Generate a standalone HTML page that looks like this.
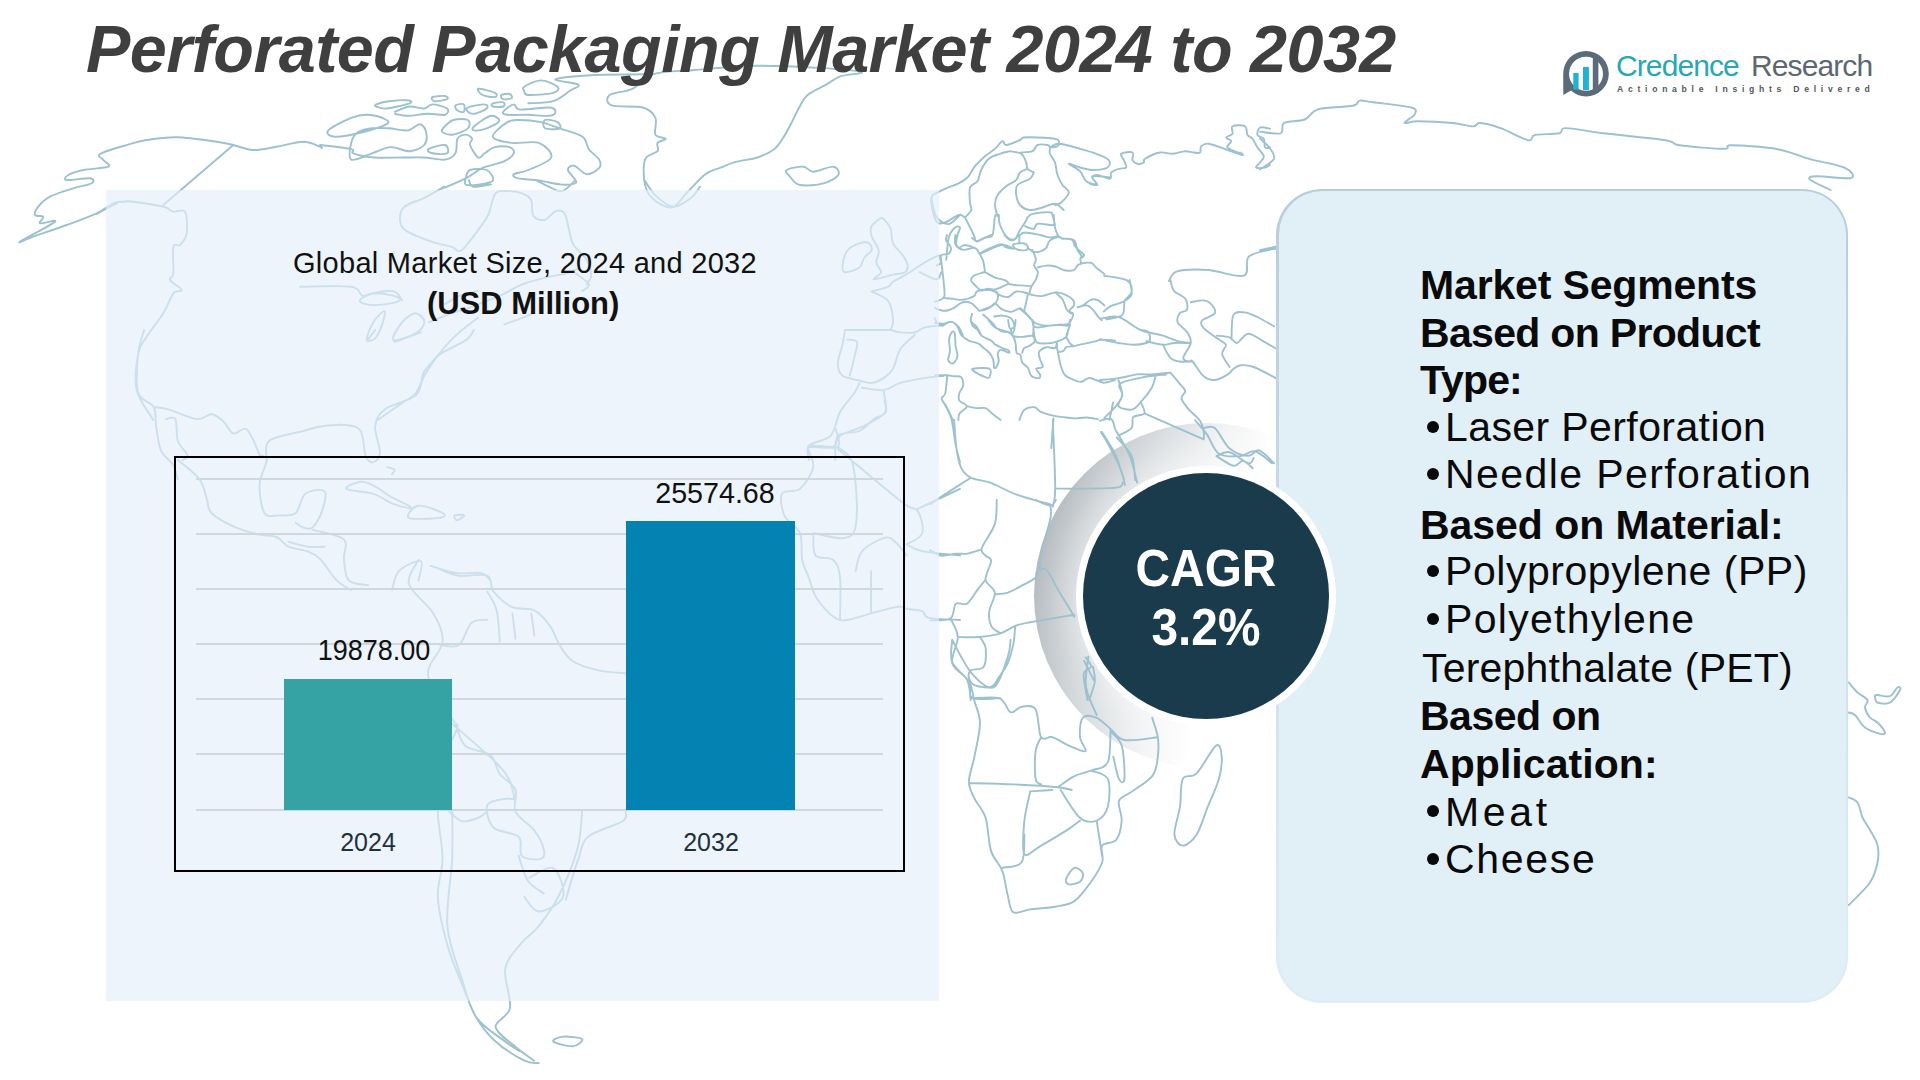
<!DOCTYPE html>
<html>
<head>
<meta charset="utf-8">
<style>
html,body{margin:0;padding:0;}
body{width:1920px;height:1080px;position:relative;overflow:hidden;background:#ffffff;font-family:"Liberation Sans",sans-serif;}
.abs{position:absolute;}
#title{left:86px;top:8.5px;font-size:66.5px;font-weight:bold;font-style:italic;color:#3f3f3f;white-space:nowrap;letter-spacing:-0.52px;line-height:80px;}
#map{left:0;top:0;width:1920px;height:1080px;}
#lpanel{left:106px;top:190px;width:833px;height:811px;background:rgba(228,238,250,0.66);}
#ctitle{left:293px;top:246px;font-size:29px;color:#111;letter-spacing:0.28px;line-height:34px;white-space:nowrap;}
#cunit{left:427px;top:286px;font-size:31px;font-weight:bold;color:#111;line-height:36px;white-space:nowrap;letter-spacing:-0.05px;}
#chart{left:174px;top:456px;width:727px;height:412px;border:2px solid #000;}
.grid{position:absolute;left:196px;width:687px;height:2px;background:#cfd8dc;}
.bar{position:absolute;}
.val{position:absolute;font-size:30px;color:#111;text-align:center;width:200px;line-height:34px;transform:scaleX(0.9);}
.cat{position:absolute;font-size:25px;color:#1e323c;text-align:center;width:200px;line-height:28px;}
#rpanel{left:1276px;top:188.5px;width:572px;height:814px;border-radius:46px;box-sizing:border-box;background:linear-gradient(180deg,#b6cdda 0%,#c5d9e4 35%,#d6e6ef 70%,#dfedf5 100%);}
#rpin{left:1278.5px;top:191px;width:567px;height:809px;border-radius:43.5px;background:#e1eff7;}
.sl{position:absolute;font-size:41px;line-height:47.8px;color:#0a0a0a;white-space:nowrap;}
.sl.b{font-weight:bold;}
.bul{position:absolute;width:12px;height:12px;border-radius:50%;background:#0a0a0a;}
#ring{left:1034px;top:423px;width:345px;height:345px;border-radius:50%;background:radial-gradient(circle 173px at 50% 50%, rgba(255,255,255,0.4) 130px, rgba(255,255,255,0.12) 155px, rgba(255,255,255,0) 173px),linear-gradient(105deg,#a9b0b5 3%,#bfc4c8 15%,#d9dde0 30%,#f3f4f5 45%,rgba(255,255,255,0) 56%);}
#dot{left:1076px;top:466px;width:260px;height:260px;border-radius:50%;background:#ffffff;}
#circle{left:1083px;top:473px;width:246px;height:246px;border-radius:50%;background:#1a3b4b;}
.cg{position:absolute;left:1083px;width:246px;text-align:center;color:#fff;font-weight:bold;font-size:52px;line-height:60px;transform:scaleX(0.92);}
#logo{left:1550px;top:40px;width:330px;height:70px;}
</style>
</head>
<body>
<div id="ring" class="abs"></div>
<svg id="map" class="abs" width="1920" height="1080" viewBox="0 0 1920 1080"><path d="M233.3,145.0 C230.6,144.4 226.1,142.9 216.7,141.7 C207.2,140.4 188.3,137.6 176.7,137.3 C165.0,137.1 155.6,138.6 146.7,140.0 C137.8,141.4 131.1,143.7 123.3,146.0 C115.6,148.3 103.3,151.7 100.0,154.0 C96.7,156.3 101.9,157.9 103.3,160.0 C104.7,162.1 111.7,165.0 108.3,166.7 C105.0,168.3 90.0,168.6 83.3,170.0 C76.7,171.4 71.1,173.3 68.3,175.0 C65.6,176.7 63.1,179.4 66.7,180.0 C70.3,180.6 85.8,177.8 90.0,178.3 C94.2,178.9 94.4,181.7 91.7,183.3 C88.9,185.0 80.3,186.1 73.3,188.3 C66.4,190.6 55.8,193.6 50.0,196.7 C44.2,199.7 40.8,203.6 38.3,206.7 C35.8,209.7 34.2,213.3 35.0,215.0 C35.8,216.7 42.5,215.3 43.3,216.7 C44.2,218.1 38.1,222.5 40.0,223.3 C41.9,224.2 58.3,218.6 55.0,221.7 C51.7,224.7 23.6,239.2 20.0,241.7 C16.4,244.2 25.6,239.4 33.3,236.7 C41.1,233.9 56.1,228.9 66.7,225.0 C77.2,221.1 88.9,216.9 96.7,213.3 C104.4,209.7 108.9,205.3 113.3,203.3 C117.8,201.4 120.0,201.9 123.3,201.7 C126.7,201.4 126.7,200.8 133.3,201.7 C140.0,202.5 156.7,205.0 163.3,206.7 C170.0,208.3 169.7,210.8 173.3,211.7 C176.9,212.5 182.8,208.1 185.0,211.7 C187.2,215.3 187.5,227.8 186.7,233.3 C185.8,238.9 182.2,242.8 180.0,245.0 C177.8,247.2 174.4,241.9 173.3,246.7 C172.2,251.4 173.9,267.8 173.3,273.3 C172.8,278.9 168.6,277.2 170.0,280.0 C171.4,282.8 181.1,287.8 181.7,290.0 C182.2,292.2 176.4,289.4 173.3,293.3 C170.3,297.2 167.8,306.1 163.3,313.3 C158.9,320.6 150.8,330.0 146.7,336.7 C142.5,343.3 140.0,344.4 138.3,353.3 C136.7,362.2 134.2,378.9 136.7,390.0 C139.2,401.1 150.6,415.0 153.3,420.0 M96.7,214.0 C98.9,212.8 106.7,208.4 110.0,206.7 C113.3,204.9 115.6,203.9 116.7,203.3 M233.3,145.0 L163.3,205.0 M233.3,145.0 C236.7,145.8 246.1,149.7 253.3,150.0 C260.6,150.3 268.3,148.1 276.7,146.7 C285.0,145.3 296.1,141.7 303.3,141.7 C310.6,141.7 316.9,145.6 320.0,146.7 C323.1,147.8 321.4,148.1 321.7,148.3 M954.1,420.0 C954.5,424.8 955.3,440.9 956.5,448.9 C957.7,456.9 958.9,463.3 961.3,468.2 C963.7,473.0 966.1,475.4 970.9,477.8 C975.8,480.2 982.6,479.8 990.2,482.6 C997.8,485.4 1006.7,491.0 1016.7,494.6 C1026.7,498.3 1044.8,502.7 1050.4,504.3 M1052.8,420.0 C1053.2,431.2 1055.2,473.0 1055.2,487.4 C1055.2,501.9 1053.2,503.5 1052.8,506.7 M1055.2,488.6 C1060.4,488.6 1076.1,488.8 1086.5,488.6 C1096.9,488.4 1111.8,488.4 1117.8,487.4 C1123.8,486.4 1121.8,483.4 1122.6,482.6 M1101.0,432.0 C1102.2,434.0 1105.0,438.1 1108.2,444.1 C1111.4,450.1 1117.4,461.3 1120.2,468.2 C1123.0,475.0 1124.2,482.2 1125.0,485.0 M1115.4,429.6 C1117.8,434.0 1126.2,447.3 1129.9,456.1 C1133.5,464.9 1135.9,478.2 1137.1,482.6 M930.0,504.3 C932.4,502.7 937.6,499.1 944.4,494.6 C951.3,490.2 966.5,480.6 970.9,477.8 M1194.9,420.0 C1196.9,422.4 1202.9,428.8 1206.9,434.4 C1210.9,440.1 1213.3,450.1 1218.9,453.7 C1224.6,457.3 1234.6,456.5 1240.6,456.1 C1246.6,455.7 1249.8,450.1 1255.1,451.3 C1260.3,452.5 1269.1,461.3 1271.9,463.3 M1216.5,456.1 C1219.3,457.7 1229.0,464.9 1233.4,465.8 C1237.8,466.6 1239.8,460.5 1243.0,460.9 C1246.2,461.3 1251.1,467.0 1252.7,468.2 M1084.1,660.8 L1093.7,680.1 M952.2,640.0 C952.2,643.7 949.4,655.3 952.2,662.2 C955.0,669.2 965.2,675.2 968.9,681.7 C972.6,688.1 972.6,694.2 974.4,701.1 C976.3,708.1 980.0,714.1 980.0,723.3 C980.0,732.6 976.3,746.9 974.4,756.7 C972.6,766.4 968.9,774.7 968.9,781.7 C968.9,788.6 971.7,792.3 974.4,798.3 C977.2,804.4 982.8,809.0 985.6,817.8 C988.3,826.6 988.3,842.3 991.1,851.1 C993.9,859.9 999.4,863.1 1002.2,870.6 C1005.0,878.0 1005.9,888.6 1007.8,895.6 C1009.6,902.5 1009.6,909.9 1013.3,912.2 C1017.0,914.5 1023.1,910.4 1030.0,909.4 C1036.9,908.5 1047.6,908.1 1055.0,906.7 C1062.4,905.3 1068.4,905.3 1074.4,901.1 C1080.5,896.9 1086.5,888.1 1091.1,881.7 C1095.7,875.2 1100.4,868.2 1102.2,862.2 C1104.1,856.2 1099.9,849.3 1102.2,845.6 C1104.5,841.9 1112.9,844.2 1116.1,840.0 C1119.4,835.8 1121.2,827.0 1121.7,820.6 C1122.1,814.1 1117.5,805.7 1118.9,801.1 C1120.3,796.5 1124.4,796.9 1130.0,792.8 C1135.6,788.6 1147.6,782.1 1152.2,776.1 C1156.9,770.1 1156.9,763.1 1157.8,756.7 C1158.7,750.2 1158.7,743.7 1157.8,737.2 C1156.9,730.7 1153.1,721.0 1152.2,717.8 M971.7,698.3 C976.3,698.3 993.0,696.0 999.4,698.3 C1005.9,700.6 1006.9,710.8 1010.6,712.2 C1014.3,713.6 1017.5,707.1 1021.7,706.7 C1025.8,706.2 1032.3,704.4 1035.6,709.4 C1038.8,714.5 1038.3,732.6 1041.1,737.2 C1043.9,741.9 1047.6,735.8 1052.2,737.2 C1056.9,738.6 1063.3,743.2 1068.9,745.6 C1074.4,747.9 1083.7,752.5 1085.6,751.1 C1087.4,749.7 1080.5,742.8 1080.0,737.2 C1079.5,731.7 1080.0,721.0 1082.8,717.8 C1085.6,714.5 1092.0,715.9 1096.7,717.8 C1101.3,719.6 1105.9,725.2 1110.6,728.9 C1115.2,732.6 1116.6,738.6 1124.4,740.0 C1132.3,741.4 1152.2,737.7 1157.8,737.2 M1041.1,737.2 C1040.2,739.5 1036.5,744.2 1035.6,751.1 C1034.6,758.1 1034.6,773.3 1035.6,778.9 C1036.5,784.4 1040.2,783.5 1041.1,784.4 M968.9,783.1 C976.3,783.3 998.5,783.8 1013.3,784.4 C1028.1,785.1 1048.1,786.3 1057.8,787.2 C1067.5,788.1 1069.4,789.5 1071.7,790.0 M1057.8,787.2 C1060.6,785.4 1068.9,778.9 1074.4,776.1 C1080.0,773.3 1085.6,772.9 1091.1,770.6 C1096.7,768.2 1104.5,769.2 1107.8,762.2 C1111.0,755.3 1110.1,734.4 1110.6,728.9 M1060.6,790.0 C1063.8,794.6 1074.0,812.7 1080.0,817.8 C1086.0,822.9 1092.0,822.4 1096.7,820.6 C1101.3,818.7 1105.9,813.6 1107.8,806.7 C1109.6,799.7 1110.6,784.9 1107.8,778.9 C1105.0,772.9 1093.9,771.9 1091.1,770.6 M1030.0,791.4 L1052.2,790.0 M1030.0,792.8 C1029.1,797.4 1025.4,810.4 1024.4,820.6 C1023.5,830.7 1021.7,849.7 1024.4,853.9 C1027.2,858.1 1033.7,849.7 1041.1,845.6 C1048.5,841.4 1062.4,833.1 1068.9,828.9 C1075.4,824.7 1078.1,821.9 1080.0,820.6 M1002.2,867.8 C1005.5,866.9 1018.0,867.8 1021.7,862.2 C1025.4,856.7 1024.0,839.1 1024.4,834.4 M1096.7,820.6 L1102.2,856.7 M1110.6,731.7 C1112.4,734.0 1119.4,737.7 1121.7,745.6 C1124.0,753.4 1124.9,773.3 1124.4,778.9 C1124.0,784.4 1120.7,782.6 1118.9,778.9 C1117.0,775.2 1114.3,760.4 1113.3,756.7 M1066.1,878.9 C1067.0,876.1 1071.7,868.7 1074.4,867.8 C1077.2,866.9 1081.9,871.0 1082.8,873.3 C1083.7,875.6 1082.3,879.8 1080.0,881.7 C1077.7,883.5 1071.2,884.9 1068.9,884.4 C1066.6,884.0 1065.2,881.7 1066.1,878.9 M1174.4,834.4 C1174.0,828.0 1178.6,815.9 1180.0,806.7 C1181.4,797.4 1180.0,784.4 1182.8,778.9 C1185.6,773.3 1191.1,778.9 1196.7,773.3 C1202.2,767.8 1211.9,748.3 1216.1,745.6 C1220.3,742.8 1221.2,751.1 1221.7,756.7 C1222.1,762.2 1221.2,770.6 1218.9,778.9 C1216.6,787.2 1211.5,797.4 1207.8,806.7 C1204.1,815.9 1200.8,828.0 1196.7,834.4 C1192.5,840.9 1186.5,845.6 1182.8,845.6 C1179.1,845.6 1174.9,840.9 1174.4,834.4 M952.2,640.0 C955.5,645.6 964.7,665.5 971.7,673.3 C978.6,681.2 987.9,690.0 993.9,687.2 C999.9,684.4 1005.0,664.5 1007.8,656.7 C1010.6,648.8 1010.1,642.8 1010.6,640.0 M1088.3,656.7 C1087.9,660.8 1085.6,675.2 1085.6,681.7 C1085.6,688.1 1086.5,690.0 1088.3,695.6 C1090.2,701.1 1095.3,711.8 1096.7,715.0 M996.7,500.0 C996.4,504.0 997.3,516.0 994.8,524.1 C992.3,532.1 983.4,542.9 981.9,548.1 C980.3,553.4 984.0,553.4 985.6,555.6 C987.1,557.7 991.1,557.1 991.1,561.1 C991.1,565.1 984.9,574.4 985.6,579.6 C986.2,584.9 994.2,587.3 994.8,592.6 C995.4,597.8 989.9,605.6 989.3,611.1 C988.6,616.7 989.3,622.2 991.1,625.9 C993.0,629.6 998.8,632.1 1000.4,633.3 M930.0,550.0 C931.9,550.9 936.8,554.9 941.1,555.6 C945.4,556.2 951.6,554.0 955.9,553.7 C960.2,553.4 963.0,554.3 967.0,553.7 C971.0,553.1 977.8,550.6 980.0,550.0 M985.6,579.6 C984.3,581.2 981.2,584.9 978.1,588.9 C975.1,592.9 970.7,601.2 967.0,603.7 C963.3,606.2 958.7,601.2 955.9,603.7 C953.1,606.2 954.7,615.7 950.4,618.5 C946.0,621.3 933.4,620.1 930.0,620.4 M950.4,618.5 C951.6,621.6 957.5,629.6 957.8,637.0 C958.1,644.4 950.7,655.9 952.2,663.0 C953.8,670.1 964.0,673.5 967.0,679.6 C970.1,685.8 970.1,696.6 970.7,700.0 M957.8,637.0 C961.2,637.0 971.0,637.7 978.1,637.0 C985.2,636.4 994.2,635.2 1000.4,633.3 C1006.5,631.5 1010.2,627.8 1015.2,625.9 C1020.1,624.1 1025.7,623.1 1030.0,622.2 C1034.3,621.3 1033.7,621.6 1041.1,620.4 C1048.5,619.1 1068.9,615.7 1074.4,614.8 M994.8,594.4 C997.0,594.1 1003.1,594.1 1007.8,592.6 C1012.4,591.0 1018.0,587.7 1022.6,585.2 C1027.2,582.7 1033.1,580.2 1035.6,577.8 C1038.0,575.3 1035.6,571.6 1037.4,570.4 C1039.3,569.1 1043.0,566.7 1046.7,570.4 C1050.4,574.1 1055.0,584.9 1059.6,592.6 C1064.3,600.3 1072.0,612.7 1074.4,616.7 M980.0,637.0 C980.9,638.9 984.9,643.2 985.6,648.1 C986.2,653.1 986.2,663.0 983.7,666.7 C981.2,670.4 973.2,668.5 970.7,670.4 C968.3,672.2 968.3,675.3 968.9,677.8 C969.5,680.2 970.7,683.6 974.4,685.2 C978.1,686.7 987.1,688.3 991.1,687.0 C995.1,685.8 995.7,681.8 998.5,677.8 C1001.3,673.8 1005.3,668.5 1007.8,663.0 C1010.2,657.4 1012.1,650.6 1013.3,644.4 C1014.6,638.3 1014.9,629.0 1015.2,625.9 M1039.3,570.4 C1039.6,567.6 1039.3,562.3 1041.1,553.7 C1043.0,545.1 1048.8,526.5 1050.4,518.5 C1051.9,510.5 1050.4,507.7 1050.4,505.6 M1035.6,500.0 C1038.0,500.9 1047.0,505.6 1050.4,505.6 C1053.8,505.6 1055.0,500.9 1055.9,500.0 M970.7,685.2 C971.0,687.3 967.7,696.0 972.6,698.1 C977.5,700.3 995.7,698.1 1000.4,698.1 M1085.6,657.4 C1086.5,659.0 1091.4,663.9 1091.1,666.7 C1090.8,669.4 1084.3,668.5 1083.7,674.1 C1083.1,679.6 1086.8,695.7 1087.4,700.0 M1093.0,666.7 C1093.3,669.1 1095.4,675.9 1094.8,681.5 C1094.2,687.0 1090.2,696.9 1089.3,700.0 M328.3,130.4 C331.1,127.3 344.7,120.5 351.2,117.9 C357.8,115.3 362.4,114.6 367.9,114.8 C373.5,115.0 381.5,117.4 384.6,119.0 C387.7,120.5 390.5,121.9 386.7,124.2 C382.8,126.4 370.3,130.4 361.7,132.5 C353.0,134.6 340.1,137.0 334.6,136.7 C329.0,136.3 325.6,133.5 328.3,130.4 M351.2,142.9 C352.3,138.4 354.0,134.9 357.5,132.5 C361.0,130.1 366.9,129.0 372.1,128.3 C377.3,127.6 382.8,128.0 388.8,128.3 C394.7,128.7 402.3,131.1 407.5,130.4 C412.7,129.7 416.9,123.8 420.0,124.2 C423.1,124.5 425.6,129.0 426.2,132.5 C426.9,136.0 426.9,141.9 424.2,145.0 C421.4,148.1 415.1,150.9 409.6,151.2 C404.0,151.6 397.1,146.7 390.8,147.1 C384.6,147.4 378.7,151.2 372.1,153.3 C365.5,155.4 354.7,161.3 351.2,159.6 C347.8,157.8 350.2,147.4 351.2,142.9 M376.2,104.4 C378.3,103.5 383.5,101.9 388.8,101.2 C394.0,100.6 404.0,99.9 407.5,100.2 C411.0,100.6 413.1,101.9 409.6,103.3 C406.1,104.7 392.2,108.0 386.7,108.5 C381.1,109.1 378.0,107.2 376.2,106.5 C374.5,105.8 374.2,105.2 376.2,104.4 M395.0,111.7 C397.4,110.8 404.7,107.0 409.6,106.5 C414.4,105.9 420.3,108.9 424.2,108.5 C428.0,108.2 428.7,104.4 432.5,104.4 C436.3,104.4 445.0,106.8 447.1,108.5 C449.2,110.3 448.1,113.9 445.0,114.8 C441.9,115.7 434.6,113.6 428.3,113.8 C422.1,113.9 413.1,115.8 407.5,115.8 C401.9,115.8 397.1,114.1 395.0,113.8 M432.5,97.1 C434.2,96.2 442.6,95.7 445.0,96.0 C447.4,96.4 448.8,98.3 447.1,99.2 C445.3,100.0 437.0,101.6 434.6,101.2 C432.2,100.9 430.8,98.0 432.5,97.1 M442.9,128.3 C444.7,126.3 449.2,121.4 453.3,120.0 C457.5,118.6 465.5,118.6 467.9,120.0 C470.3,121.4 470.3,125.9 467.9,128.3 C465.5,130.8 457.5,133.9 453.3,134.6 C449.2,135.3 444.7,133.5 442.9,132.5 C441.2,131.5 441.2,130.4 442.9,128.3 M455.4,105.4 C456.5,104.4 462.4,103.3 463.8,104.4 C465.1,105.4 464.8,110.6 463.8,111.7 C462.7,112.7 458.9,111.7 457.5,110.6 C456.1,109.6 454.4,106.5 455.4,105.4 M467.9,107.5 C470.7,106.3 481.5,104.2 484.6,104.4 C487.7,104.5 488.4,107.0 486.7,108.5 C484.9,110.1 477.3,113.2 474.2,113.8 C471.0,114.3 469.0,112.7 467.9,111.7 C466.9,110.6 465.1,108.7 467.9,107.5 M474.2,126.2 C476.9,123.8 486.7,116.7 490.8,115.8 C495.0,115.0 499.9,119.0 499.2,121.0 C498.5,123.1 490.8,126.8 486.7,128.3 C482.5,129.9 476.2,130.8 474.2,130.4 C472.1,130.1 471.4,128.7 474.2,126.2 M478.3,88.8 C480.4,88.4 492.2,91.5 495.0,92.9 C497.8,94.3 497.1,96.7 495.0,97.1 C492.9,97.4 485.3,96.4 482.5,95.0 C479.7,93.6 476.3,89.1 478.3,88.8 M492.9,103.3 C494.7,102.6 501.6,101.8 503.3,102.3 C505.1,102.8 505.1,105.8 503.3,106.5 C501.6,107.2 494.7,107.0 492.9,106.5 C491.2,105.9 491.2,104.0 492.9,103.3 M503.3,111.7 C504.4,109.9 511.0,104.7 513.8,104.4 C516.5,104.0 514.1,109.1 520.0,109.6 C525.9,110.1 543.3,107.2 549.2,107.5 C555.1,107.8 555.4,110.3 555.4,111.7 C555.4,113.1 553.7,115.3 549.2,115.8 C544.7,116.4 535.3,115.0 528.3,114.8 C521.4,114.6 511.7,115.3 507.5,114.8 C503.3,114.3 502.3,113.4 503.3,111.7 M524.2,86.7 C526.9,84.9 535.3,80.4 540.8,80.4 C546.4,80.4 555.4,84.6 557.5,86.7 C559.6,88.8 558.2,91.5 553.3,92.9 C548.5,94.3 533.2,95.3 528.3,95.0 C523.5,94.7 524.9,92.2 524.2,90.8 C523.5,89.4 521.4,88.4 524.2,86.7 M501.2,95.0 C502.3,94.1 507.8,93.4 509.6,94.0 C511.3,94.5 512.7,97.3 511.7,98.1 C510.6,99.0 505.1,99.7 503.3,99.2 C501.6,98.6 500.2,95.9 501.2,95.0 M528.3,103.3 C532.5,103.0 546.4,103.3 553.3,101.2 C560.3,99.2 565.8,93.6 570.0,90.8 C574.2,88.1 580.8,86.5 578.3,84.6 C575.9,82.7 553.3,80.9 555.4,79.4 C557.5,77.8 574.5,76.1 590.8,75.2 C607.2,74.3 642.9,74.3 653.3,74.2 M492.9,136.7 C492.2,133.2 503.0,124.9 507.5,122.1 C512.0,119.3 514.4,120.0 520.0,120.0 C525.6,120.0 534.2,120.7 540.8,122.1 C547.4,123.5 552.6,125.9 559.6,128.3 C566.5,130.8 577.6,133.2 582.5,136.7 C587.4,140.1 586.0,145.3 588.8,149.2 C591.5,153.0 597.4,156.5 599.2,159.6 C600.9,162.7 601.3,165.5 599.2,167.9 C597.1,170.3 590.8,174.5 586.7,174.2 C582.5,173.8 577.3,166.5 574.2,165.8 C571.0,165.1 567.6,167.2 567.9,170.0 C568.3,172.8 577.3,180.1 576.2,182.5 C575.2,184.9 567.9,184.9 561.7,184.6 C555.4,184.2 546.0,181.5 538.8,180.4 C531.5,179.4 522.1,179.4 517.9,178.3 C513.8,177.3 512.0,175.6 513.8,174.2 C515.5,172.8 522.1,172.8 528.3,170.0 C534.6,167.2 549.5,162.0 551.2,157.5 C553.0,153.0 545.3,145.3 538.8,142.9 C532.2,140.5 519.3,144.0 511.7,142.9 C504.0,141.9 493.6,140.1 492.9,136.7 M545.0,120.0 C547.1,119.0 555.1,120.7 557.5,122.1 C559.9,123.5 561.7,127.3 559.6,128.3 C557.5,129.4 547.4,129.7 545.0,128.3 C542.6,126.9 542.9,121.0 545.0,120.0 M428.3,149.2 C430.4,147.8 441.9,144.3 445.0,145.0 C448.1,145.7 449.2,151.9 447.1,153.3 C445.0,154.7 435.6,154.0 432.5,153.3 C429.4,152.6 426.3,150.6 428.3,149.2 M320.0,145.0 C325.2,145.7 345.7,147.8 351.2,149.2 C356.8,150.6 349.5,151.9 353.3,153.3 C357.2,154.7 365.8,156.8 374.2,157.5 C382.5,158.2 395.0,157.5 403.3,157.5 C411.7,157.5 417.2,157.2 424.2,157.5 C431.1,157.8 439.8,160.3 445.0,159.6 C450.2,158.9 453.3,156.8 455.4,153.3 C457.5,149.9 455.8,141.9 457.5,138.8 C459.2,135.6 463.4,134.6 465.8,134.6 C468.3,134.6 471.4,137.0 472.1,138.8 C472.8,140.5 469.0,141.9 470.0,145.0 C471.0,148.1 475.9,156.1 478.3,157.5 C480.8,158.9 481.8,155.1 484.6,153.3 C487.4,151.6 490.8,148.1 495.0,147.1 C499.2,146.0 506.5,146.0 509.6,147.1 C512.7,148.1 514.8,150.9 513.8,153.3 C512.7,155.8 508.5,159.2 503.3,161.7 C498.1,164.1 488.8,165.1 482.5,167.9 C476.2,170.7 473.5,174.5 465.8,178.3 C458.2,182.2 441.5,188.8 436.7,190.8 M465.8,178.3 C466.5,175.9 466.5,171.4 470.0,170.0 C473.5,168.6 482.8,168.3 486.7,170.0 C490.5,171.7 494.3,178.0 492.9,180.4 C491.5,182.8 482.8,183.9 478.3,184.6 C473.8,185.3 467.9,185.6 465.8,184.6 C463.8,183.5 465.1,180.8 465.8,178.3 M1848.8,682.5 C1850.2,684.2 1854.4,689.6 1857.5,692.5 C1860.6,695.4 1866.2,697.5 1867.5,700.0 C1868.8,702.5 1864.6,704.6 1865.0,707.5 C1865.4,710.4 1867.9,715.0 1870.0,717.5 C1872.1,720.0 1875.0,720.0 1877.5,722.5 C1880.0,725.0 1884.6,730.6 1885.0,732.5 C1885.4,734.4 1883.3,734.6 1880.0,733.8 C1876.7,732.9 1869.2,730.6 1865.0,727.5 C1860.8,724.4 1857.7,717.5 1855.0,715.0 C1852.3,712.5 1849.8,712.9 1848.8,712.5 M1875.0,696.2 C1875.0,695.0 1875.0,695.0 1877.5,695.0 C1880.0,695.0 1886.7,697.5 1890.0,696.2 C1893.3,695.0 1895.8,688.5 1897.5,687.5 C1899.2,686.5 1901.2,687.5 1900.0,690.0 C1898.8,692.5 1893.8,700.4 1890.0,702.5 C1886.2,704.6 1880.0,703.5 1877.5,702.5 C1875.0,701.5 1875.0,697.5 1875.0,696.2 M1848.8,797.5 C1850.2,798.3 1855.2,799.2 1857.5,802.5 C1859.8,805.8 1860.4,812.9 1862.5,817.5 C1864.6,822.1 1867.5,825.4 1870.0,830.0 C1872.5,834.6 1876.2,839.6 1877.5,845.0 C1878.8,850.4 1878.8,856.2 1877.5,862.5 C1876.2,868.8 1874.8,875.4 1870.0,882.5 C1865.2,889.6 1852.3,901.2 1848.8,905.0 M947.0,235.0 C946.9,235.9 945.5,238.5 946.1,240.6 C946.7,242.6 950.3,244.9 950.7,247.0 C951.2,249.2 950.6,252.1 948.9,253.5 C947.2,254.9 941.9,253.8 940.6,255.4 C939.2,256.9 941.2,261.1 940.6,262.8 C939.9,264.5 937.5,265.1 936.9,265.6 M955.4,235.0 C955.4,236.5 954.1,241.8 955.4,244.3 C956.6,246.7 959.5,249.2 962.8,249.8 C966.0,250.4 972.0,247.3 974.8,248.0 C977.6,248.6 978.1,251.4 979.4,253.5 C980.8,255.7 982.2,257.8 983.1,260.9 C984.1,264.0 984.7,270.2 985.0,272.0 M979.4,253.5 C981.3,252.6 986.9,249.5 990.6,248.0 C994.3,246.4 999.2,244.4 1001.7,244.3 C1004.1,244.1 1003.4,246.3 1005.4,247.0 C1007.4,247.8 1012.3,248.6 1013.7,248.9 M1013.7,244.3 C1015.2,243.6 1020.6,243.0 1023.0,243.3 C1025.3,243.6 1027.0,245.0 1027.6,246.1 C1028.2,247.2 1028.2,249.2 1026.7,249.8 C1025.1,250.4 1020.5,250.3 1018.3,249.8 C1016.2,249.4 1014.5,248.0 1013.7,247.0 C1012.9,246.1 1012.2,244.9 1013.7,244.3 M1027.6,248.0 C1028.5,248.6 1031.1,251.0 1033.1,251.7 C1035.2,252.3 1037.5,252.3 1039.6,251.7 C1041.8,251.0 1044.4,249.8 1046.1,248.0 C1047.8,246.1 1047.7,242.4 1049.8,240.6 C1052.0,238.7 1056.9,237.2 1059.1,236.9 C1061.2,236.5 1060.6,238.2 1062.8,238.7 C1064.9,239.2 1070.0,238.4 1072.0,239.6 C1074.0,240.9 1073.6,244.3 1074.8,246.1 C1076.0,248.0 1077.9,249.2 1079.4,250.7 C1081.0,252.3 1083.9,254.1 1084.1,255.4 C1084.2,256.6 1080.8,256.8 1080.4,258.1 C1079.9,259.5 1081.1,262.8 1081.3,263.7 M1019.3,235.0 L1019.3,243.3 M972.0,237.8 C972.8,238.4 974.8,241.3 976.7,241.5 C978.5,241.6 980.8,239.8 983.1,238.7 C985.5,237.6 989.3,235.6 990.6,235.0 M1004.4,235.0 C1005.2,235.8 1007.4,238.9 1009.1,239.6 C1010.8,240.4 1013.1,240.4 1014.6,239.6 C1016.2,238.9 1017.7,235.8 1018.3,235.0 M1032.2,249.8 C1032.8,251.4 1035.6,256.5 1035.9,259.1 C1036.2,261.7 1033.8,263.4 1034.1,265.6 C1034.4,267.7 1037.5,269.7 1037.8,272.0 C1038.1,274.4 1037.0,277.0 1035.9,279.4 C1034.8,281.9 1032.4,284.5 1031.3,286.9 C1030.2,289.2 1029.8,292.3 1029.4,293.3 M1037.8,267.4 C1039.2,267.1 1043.2,265.7 1046.1,265.6 C1049.0,265.4 1052.3,265.7 1055.4,266.5 C1058.5,267.3 1061.5,269.6 1064.6,270.2 C1067.7,270.8 1071.6,271.1 1073.9,270.2 C1076.2,269.3 1075.7,265.9 1078.5,264.6 C1081.3,263.4 1087.5,262.2 1090.6,262.8 C1093.6,263.4 1094.7,266.5 1097.0,268.3 C1099.4,270.2 1103.2,273.0 1104.4,273.9 M985.0,272.0 C983.1,272.7 976.2,274.4 973.9,275.7 C971.6,277.1 971.0,278.8 971.1,280.4 C971.3,281.9 973.1,283.3 974.8,285.0 C976.5,286.7 979.1,289.9 981.3,290.6 C983.5,291.2 985.6,288.9 987.8,288.7 C989.9,288.5 992.3,289.8 994.3,289.6 C996.3,289.5 997.5,288.7 999.8,287.8 C1002.1,286.9 1005.7,284.5 1008.1,284.1 C1010.6,283.6 1011.2,284.7 1014.6,285.0 C1018.0,285.3 1025.7,285.6 1028.5,285.9 C1031.3,286.2 1030.8,286.7 1031.3,286.9 M985.0,272.0 C986.7,273.0 991.8,276.2 995.2,277.6 C998.6,279.0 1003.1,279.3 1005.4,280.4 C1007.7,281.5 1008.5,283.5 1009.1,284.1 M944.3,298.0 C945.8,298.1 950.4,298.6 953.5,298.9 C956.6,299.2 959.4,300.3 962.8,299.8 C966.2,299.4 971.6,297.5 973.9,296.1 C976.2,294.7 975.4,292.4 976.7,291.5 C977.9,290.6 980.5,290.7 981.3,290.6 M940.6,255.4 C941.2,260.9 943.8,281.6 944.3,288.7 C944.7,295.8 944.9,295.8 943.3,298.0 C941.8,300.1 936.4,301.0 935.0,301.7 M996.1,291.5 C996.7,292.1 997.8,294.3 999.8,295.2 C1001.8,296.1 1005.4,297.7 1008.1,297.0 C1010.9,296.4 1013.2,292.1 1016.5,291.5 C1019.7,290.9 1025.7,293.0 1027.6,293.3 M981.3,289.6 C983.1,289.8 989.6,289.6 992.4,290.6 C995.2,291.5 997.5,293.0 998.0,295.2 C998.4,297.3 997.0,301.2 995.2,303.5 C993.3,305.8 989.5,307.8 986.9,309.1 C984.2,310.3 980.7,310.6 979.4,310.9 M935.0,308.1 C936.5,308.6 941.2,310.9 944.3,310.9 C947.3,310.9 950.9,309.4 953.5,308.1 C956.1,306.9 958.0,304.6 960.0,303.5 C962.0,302.4 963.5,301.7 965.6,301.7 C967.6,301.7 970.2,302.4 972.0,303.5 C973.9,304.6 975.4,306.9 976.7,308.1 C977.9,309.4 979.0,310.5 979.4,310.9 M979.4,310.9 C981.1,310.3 987.0,308.5 989.6,307.2 C992.3,306.0 993.2,303.2 995.2,303.5 C997.2,303.8 999.0,307.7 1001.7,309.1 C1004.3,310.5 1007.8,312.0 1010.9,311.9 C1014.0,311.7 1018.0,308.3 1020.2,308.1 C1022.3,308.0 1022.7,313.1 1023.9,310.9 C1025.1,308.8 1027.0,297.8 1027.6,295.2 M1029.4,294.3 C1031.5,294.6 1037.2,296.4 1041.5,296.1 C1045.8,295.8 1051.5,292.7 1055.4,292.4 C1059.2,292.1 1061.7,293.0 1064.6,294.3 C1067.6,295.5 1071.4,298.0 1073.0,299.8 C1074.5,301.7 1074.5,303.5 1073.9,305.4 C1073.3,307.2 1069.4,309.5 1069.3,310.9 C1069.1,312.3 1072.5,312.5 1073.0,313.7 C1073.4,314.9 1072.8,316.6 1072.0,318.3 C1071.3,320.0 1070.3,322.8 1068.3,323.9 C1066.3,325.0 1063.7,324.5 1060.0,324.8 C1056.3,325.1 1050.0,325.9 1046.1,325.7 C1042.3,325.6 1039.2,324.8 1036.9,323.9 C1034.5,323.0 1034.4,322.3 1032.2,320.2 C1030.1,318.0 1025.3,312.5 1023.9,310.9 M1055.4,292.4 C1056.6,293.6 1060.9,297.0 1062.8,299.8 C1064.6,302.6 1065.1,306.8 1066.5,309.1 C1067.9,311.4 1070.3,312.9 1071.1,313.7 M1077.6,307.2 C1079.1,306.9 1084.4,305.1 1086.9,305.4 C1089.3,305.7 1090.6,307.2 1092.4,309.1 C1094.3,310.9 1096.4,314.6 1098.0,316.5 C1099.5,318.3 1101.0,319.6 1101.7,320.2 M972.0,313.7 C971.9,314.9 970.3,319.0 971.1,321.1 C971.9,323.3 975.0,324.4 976.7,326.7 C978.4,329.0 980.5,333.6 981.3,335.0 M994.3,316.5 C995.6,316.3 999.8,315.2 1002.6,315.6 C1005.4,315.9 1008.9,316.3 1010.9,318.3 C1012.9,320.3 1014.5,324.8 1014.6,327.6 C1014.8,330.4 1012.3,333.8 1011.9,335.0 M983.1,314.6 C984.7,316.0 990.2,320.8 992.4,323.0 C994.6,325.1 994.6,326.2 996.1,327.6 C997.7,329.0 999.5,330.5 1001.7,331.3 C1003.8,332.1 1007.8,332.1 1009.1,332.2 M1020.2,309.1 C1021.4,310.2 1025.4,313.2 1027.6,315.6 C1029.8,317.9 1032.2,319.7 1033.1,323.0 C1034.1,326.2 1033.1,333.0 1033.1,335.0 M1070.2,324.8 L1066.5,335.0 M935.0,318.3 C935.5,319.3 936.5,322.7 937.8,323.9 C939.0,325.1 940.6,326.0 942.4,325.7 C944.3,325.4 946.9,322.5 948.9,322.0 C950.9,321.6 952.7,322.0 954.4,323.0 C956.1,323.9 957.7,325.6 959.1,327.6 C960.5,329.6 962.2,333.8 962.8,335.0 M1077.6,307.2 C1078.5,306.9 1081.0,306.6 1083.1,305.4 C1085.3,304.1 1088.2,300.7 1090.6,299.8 C1092.9,298.9 1094.7,298.9 1097.0,299.8 C1099.4,300.7 1103.2,304.4 1104.4,305.4 M1104.1,275.8 C1107.9,276.5 1122.4,277.7 1127.0,280.4 C1131.6,283.0 1132.0,288.4 1131.6,291.8 C1131.2,295.3 1126.3,297.2 1124.7,301.0 C1123.2,304.9 1125.5,311.7 1122.4,314.8 C1119.4,317.9 1109.0,318.6 1106.4,319.4 M1104.1,418.1 C1106.0,416.2 1112.5,410.5 1115.5,406.7 C1118.6,402.8 1121.7,399.0 1122.4,395.2 C1123.2,391.4 1116.3,386.8 1120.1,383.7 C1124.0,380.6 1137.7,378.3 1145.4,376.8 C1153.1,375.3 1162.6,374.9 1166.1,374.5 M1053.5,418.1 L1051.3,448.0 M609.6,95.0 C606.1,97.8 606.1,103.3 611.7,105.4 C617.2,107.5 635.6,105.4 642.9,107.5 C650.2,109.6 653.3,113.4 655.4,117.9 C657.5,122.4 653.7,131.1 655.4,134.6 C657.2,138.1 665.5,137.4 665.8,138.8 C666.2,140.1 658.9,140.8 657.5,142.9 C656.1,145.0 659.6,148.5 657.5,151.2 C655.4,154.0 647.1,154.0 645.0,159.6 C642.9,165.1 643.6,178.0 645.0,184.6 C646.4,191.2 648.8,195.3 653.3,199.2 C657.8,203.0 666.5,208.5 672.1,207.5 C677.6,206.5 681.1,198.5 686.7,192.9 C692.2,187.4 699.9,178.3 705.4,174.2 C711.0,170.0 714.8,170.0 720.0,167.9 C725.2,165.8 730.4,163.4 736.7,161.7 C742.9,159.9 751.2,159.6 757.5,157.5 C763.8,155.4 770.0,152.3 774.2,149.2 C778.3,146.0 779.7,142.9 782.5,138.8 C785.3,134.6 788.1,129.4 790.8,124.2 C793.6,119.0 796.4,112.4 799.2,107.5 C801.9,102.6 803.0,98.8 807.5,95.0 C812.0,91.2 820.7,87.7 826.2,84.6 C831.8,81.5 834.9,78.3 840.8,76.2 C846.7,74.2 865.1,73.5 861.7,72.1 C858.2,70.7 837.4,69.0 820.0,67.9 C802.6,66.9 778.3,65.5 757.5,65.8 C736.7,66.2 712.4,68.6 695.0,70.0 C677.6,71.4 663.8,71.0 653.3,74.2 C642.9,77.3 639.8,85.3 632.5,88.8 C625.2,92.2 613.1,92.2 609.6,95.0 M786.7,170.0 C788.9,168.3 798.9,166.4 803.3,166.7 C807.8,166.9 808.3,171.7 813.3,171.7 C818.3,171.7 829.2,166.1 833.3,166.7 C837.5,167.2 840.0,172.2 838.3,175.0 C836.7,177.8 829.7,181.7 823.3,183.3 C816.9,185.0 805.6,186.1 800.0,185.0 C794.4,183.9 792.2,179.2 790.0,176.7 C787.8,174.2 784.4,171.7 786.7,170.0 M935.0,322.8 C936.4,323.0 940.6,323.9 943.4,323.7 C946.2,323.6 949.5,321.4 951.9,321.9 C954.2,322.3 955.9,324.4 957.5,326.6 C959.1,328.7 959.4,332.7 961.2,335.0 C963.1,337.3 965.9,339.2 968.7,340.6 C971.6,342.0 975.6,342.2 978.1,343.4 C980.6,344.7 981.9,346.6 983.7,348.1 C985.6,349.7 987.8,350.9 989.4,352.8 C990.9,354.7 992.3,356.9 993.1,359.4 C993.9,361.9 993.9,366.4 994.1,367.8 M970.6,320.0 C970.9,320.9 971.4,324.1 972.5,325.6 C973.6,327.2 975.6,327.7 977.2,329.4 C978.7,331.1 979.5,334.1 981.9,335.9 C984.2,337.8 989.1,339.2 991.2,340.6 C993.4,342.0 993.1,343.1 995.0,344.4 C996.9,345.6 1000.3,347.2 1002.5,348.1 C1004.7,349.1 1007.0,349.2 1008.1,350.0 C1009.2,350.8 1009.7,352.7 1009.1,352.8 C1008.4,353.0 1005.9,351.4 1004.4,350.9 C1002.8,350.5 1000.8,349.4 999.7,350.0 C998.6,350.6 998.0,352.8 997.8,354.7 C997.7,356.6 999.1,359.1 998.7,361.2 C998.4,363.4 996.7,366.7 995.9,367.8 C995.2,368.9 994.4,367.8 994.1,367.8 M951.9,332.2 C952.8,331.2 954.1,330.8 954.7,333.1 C955.3,335.5 955.2,342.5 955.6,346.2 C956.1,350.0 957.7,353.0 957.5,355.6 C957.3,358.3 955.8,360.9 954.7,362.2 C953.6,363.4 952.0,363.6 950.9,363.1 C949.8,362.7 948.3,361.4 948.1,359.4 C948.0,357.3 949.8,354.4 950.0,350.9 C950.2,347.5 948.7,341.9 949.1,338.7 C949.4,335.6 950.9,333.1 951.9,332.2 M973.4,368.7 C975.9,368.3 986.7,367.3 989.4,368.7 C992.0,370.2 990.0,375.8 989.4,377.2 C988.7,378.6 988.1,378.1 985.6,377.2 C983.1,376.2 976.4,373.0 974.4,371.6 C972.3,370.2 970.9,369.2 973.4,368.7 M988.4,320.0 C989.5,321.2 991.7,325.5 995.0,327.5 C998.3,329.5 1005.2,330.8 1008.1,332.2 C1011.1,333.6 1011.6,334.1 1012.8,335.9 C1014.1,337.8 1015.0,340.6 1015.6,343.4 C1016.2,346.2 1015.8,350.9 1016.6,352.8 C1017.3,354.7 1019.4,353.1 1020.3,354.7 C1021.2,356.2 1020.9,360.0 1022.2,362.2 C1023.4,364.4 1026.2,365.5 1027.8,367.8 C1029.4,370.2 1029.7,374.5 1031.6,376.2 C1033.4,378.0 1037.7,378.4 1039.1,378.1 C1040.5,377.8 1040.5,375.9 1040.0,374.4 C1039.5,372.8 1035.8,370.0 1036.2,368.7 C1036.7,367.5 1042.2,368.4 1042.8,366.9 C1043.4,365.3 1040.6,361.9 1040.0,359.4 C1039.4,356.9 1038.0,353.9 1039.1,351.9 C1040.2,349.8 1043.9,347.8 1046.6,347.2 C1049.2,346.6 1053.3,348.9 1055.0,348.1 C1056.7,347.3 1056.6,343.4 1056.9,342.5 M1010.9,329.4 C1011.2,330.5 1010.9,334.7 1012.8,335.9 C1014.7,337.2 1018.9,336.9 1022.2,336.9 C1025.5,336.9 1030.5,335.2 1032.5,335.9 C1034.5,336.7 1035.0,339.8 1034.4,341.6 C1033.7,343.3 1030.5,345.2 1028.7,346.2 C1027.0,347.3 1025.2,347.0 1024.1,348.1 C1023.0,349.2 1022.5,352.0 1022.2,352.8 M1008.1,320.0 C1008.4,321.4 1008.9,327.3 1010.0,328.4 C1011.1,329.5 1013.7,328.0 1014.7,326.6 C1015.6,325.2 1015.5,321.1 1015.6,320.0 M1032.5,320.0 C1032.7,320.9 1032.5,324.4 1033.4,325.6 C1034.4,326.9 1035.3,327.5 1038.1,327.5 C1040.9,327.5 1046.7,326.1 1050.3,325.6 C1053.9,325.2 1056.7,324.7 1059.7,324.7 C1062.7,324.7 1066.4,326.4 1068.1,325.6 C1069.8,324.8 1069.7,320.9 1070.0,320.0 M1033.4,328.4 C1033.9,330.6 1034.1,339.1 1036.2,341.6 C1038.4,344.1 1043.1,343.4 1046.6,343.4 C1050.0,343.4 1053.6,342.7 1056.9,341.6 C1060.2,340.5 1064.4,338.9 1066.2,336.9 C1068.1,334.8 1067.8,330.6 1068.1,329.4 M1056.9,342.5 C1057.0,343.9 1056.7,349.5 1057.8,350.9 C1058.9,352.3 1062.0,351.6 1063.4,350.9 C1064.8,350.3 1064.5,348.0 1066.2,347.2 C1068.0,346.4 1072.5,346.4 1073.7,346.2 M1066.2,336.9 C1066.9,338.0 1068.7,341.9 1070.0,343.4 C1071.2,345.0 1073.1,345.8 1073.7,346.2 M1073.7,346.2 C1075.0,345.9 1077.8,345.2 1081.2,344.4 C1084.7,343.6 1090.9,342.3 1094.4,341.6 C1097.8,340.8 1098.4,339.8 1101.9,339.7 C1105.3,339.5 1112.8,340.5 1115.0,340.6 M1057.8,351.9 C1058.3,354.1 1059.5,361.2 1060.6,365.0 C1061.7,368.7 1062.8,372.2 1064.4,374.4 C1065.9,376.6 1067.3,376.9 1070.0,378.1 C1072.7,379.4 1077.2,381.9 1080.3,381.9 C1083.4,381.9 1086.1,378.4 1088.7,378.1 C1091.4,377.8 1093.7,379.2 1096.2,380.0 C1098.7,380.8 1100.6,382.8 1103.7,382.8 C1106.9,382.8 1113.1,380.5 1115.0,380.0 M935.0,375.3 C937.0,375.3 944.1,375.2 947.2,375.3 C950.3,375.5 951.4,375.9 953.7,376.2 C956.1,376.6 959.7,375.6 961.2,377.2 C962.8,378.7 963.4,383.0 963.1,385.6 C962.8,388.3 960.0,390.6 959.4,393.1 C958.7,395.6 958.1,398.4 959.4,400.6 C960.6,402.8 966.9,404.1 966.9,406.2 C966.9,408.4 960.8,411.5 959.4,413.7 C958.0,416.0 958.6,419.0 958.4,420.0 M947.2,376.2 C946.9,379.1 946.2,389.4 945.3,393.1 C944.4,396.9 941.4,396.6 941.6,398.7 C941.7,400.9 944.4,402.7 946.2,406.2 C948.1,409.8 951.7,417.7 952.8,420.0 M966.9,406.2 C968.4,406.6 973.1,407.8 976.2,408.1 C979.4,408.4 983.1,407.3 985.6,408.1 C988.1,408.9 988.7,410.8 991.2,412.8 C993.7,414.8 999.1,418.8 1000.6,420.0 M1019.4,420.0 C1020.2,418.4 1021.6,412.1 1024.1,410.0 C1026.6,407.9 1031.6,406.9 1034.4,407.2 C1037.2,407.5 1037.8,410.5 1040.9,411.9 C1044.1,413.3 1048.9,414.7 1053.1,415.6 C1057.3,416.6 1062.5,417.0 1066.2,417.5 C1070.0,418.0 1072.2,418.4 1075.6,418.4 C1079.1,418.4 1083.1,417.3 1086.9,417.5 C1090.6,417.7 1096.2,419.1 1098.1,419.4 M1113.1,402.5 L1109.4,420.0 M1168.9,281.1 C1170.3,279.5 1170.7,273.2 1177.2,271.4 C1183.7,269.5 1196.7,269.3 1207.8,270.0 C1218.9,270.7 1236.9,277.9 1243.9,275.6 C1250.8,273.2 1243.4,260.7 1249.4,256.1 C1255.5,251.5 1274.9,249.2 1280.0,247.8 M1103.7,311.5 C1104.9,310.6 1108.0,307.5 1111.1,305.9 C1114.2,304.4 1118.8,304.1 1122.2,302.2 C1125.6,300.4 1130.2,298.5 1131.5,294.8 C1132.7,291.1 1129.9,282.5 1129.6,280.0 M1100.0,318.9 C1103.1,318.6 1111.7,315.2 1118.5,317.0 C1125.3,318.9 1133.3,326.9 1140.7,330.0 C1148.1,333.1 1156.8,333.7 1163.0,335.6 C1169.1,337.4 1173.1,339.9 1177.8,341.1 C1182.4,342.3 1188.6,342.7 1190.7,343.0 M1100.0,339.3 C1103.1,339.9 1113.0,342.0 1118.5,343.0 C1124.1,343.9 1128.7,344.8 1133.3,344.8 C1138.0,344.8 1143.5,343.9 1146.3,343.0 C1149.1,342.0 1149.7,341.1 1150.0,339.3 C1150.3,337.4 1149.7,333.4 1148.1,331.9 C1146.6,330.3 1142.0,330.3 1140.7,330.0 M1146.3,341.1 C1149.1,341.7 1158.3,344.5 1163.0,344.8 C1167.6,345.1 1169.8,343.3 1174.1,343.0 C1178.4,342.7 1186.4,343.0 1188.9,343.0 M1170.4,280.0 C1171.0,281.9 1171.6,288.0 1174.1,291.1 C1176.5,294.2 1183.0,295.4 1185.2,298.5 C1187.3,301.6 1188.0,307.2 1187.0,309.6 C1186.1,312.1 1181.2,311.2 1179.6,313.3 C1178.1,315.5 1176.5,319.5 1177.8,322.6 C1179.0,325.7 1184.9,328.5 1187.0,331.9 C1189.2,335.2 1191.4,338.6 1190.7,343.0 C1190.1,347.3 1183.6,354.7 1183.3,357.8 C1183.0,360.9 1187.3,360.9 1188.9,361.5 C1190.4,362.1 1190.1,359.0 1192.6,361.5 C1195.1,364.0 1200.0,373.2 1203.7,376.3 C1207.4,379.4 1210.8,380.3 1214.8,380.0 C1218.8,379.7 1224.7,376.3 1227.8,374.4 C1230.9,372.6 1232.4,369.8 1233.3,368.9 M1190.7,302.2 C1192.9,301.9 1200.3,300.1 1203.7,300.4 C1207.1,300.7 1209.3,301.9 1211.1,304.1 C1213.0,306.2 1216.4,310.6 1214.8,313.3 C1213.3,316.1 1203.7,318.3 1201.9,320.7 C1200.0,323.2 1200.9,325.1 1203.7,328.1 C1206.5,331.2 1214.8,336.5 1218.5,339.3 C1222.2,342.0 1225.3,342.3 1225.9,344.8 C1226.5,347.3 1221.6,350.4 1222.2,354.1 C1222.8,357.8 1228.4,364.9 1229.6,367.0 M1231.5,339.3 C1231.8,335.2 1231.2,319.7 1233.3,315.2 C1235.5,310.7 1240.4,312.1 1244.4,312.4 C1248.5,312.7 1252.5,314.7 1257.4,317.0 C1262.3,319.4 1271.3,324.8 1274.1,326.3 M1216.7,335.6 C1218.8,335.9 1226.2,336.2 1229.6,337.4 C1233.0,338.6 1234.0,343.6 1237.0,343.0 C1240.1,342.3 1243.8,334.0 1248.1,333.7 C1252.5,333.4 1258.3,338.6 1263.0,341.1 C1267.6,343.6 1273.8,347.3 1275.9,348.5 M1233.3,368.9 C1234.6,368.3 1237.3,365.5 1240.7,365.2 C1244.1,364.9 1247.8,364.9 1253.7,367.0 C1259.6,369.2 1272.2,376.3 1275.9,378.1 M1163.0,344.8 C1164.2,347.0 1167.6,355.0 1170.4,357.8 C1173.1,360.6 1175.9,360.9 1179.6,361.5 C1183.3,362.1 1190.4,361.5 1192.6,361.5 M1100.0,380.0 C1103.1,379.7 1112.3,379.1 1118.5,378.1 C1124.7,377.2 1131.5,375.1 1137.0,374.4 C1142.6,373.8 1146.3,374.8 1151.9,374.4 C1157.4,374.1 1167.3,372.9 1170.4,372.6 M1170.4,372.6 C1171.9,374.4 1177.2,380.6 1179.6,383.7 C1182.1,386.8 1184.9,388.6 1185.2,391.1 C1185.5,393.6 1180.9,395.4 1181.5,398.5 C1182.1,401.6 1185.8,405.9 1188.9,409.6 C1192.0,413.3 1197.5,417.0 1200.0,420.7 C1202.5,424.4 1203.1,428.8 1203.7,431.9 C1204.3,434.9 1203.7,438.0 1203.7,439.3 M1118.5,380.0 C1119.1,382.5 1122.2,390.5 1122.2,394.8 C1122.2,399.1 1117.0,403.5 1118.5,405.9 C1120.1,408.4 1127.8,410.2 1131.5,409.6 C1135.2,409.0 1137.3,405.9 1140.7,402.2 C1144.1,398.5 1149.4,391.7 1151.9,387.4 C1154.3,383.1 1154.9,378.1 1155.6,376.3 M1140.7,402.2 C1141.4,404.1 1145.7,410.9 1144.4,413.3 C1143.2,415.8 1135.5,414.6 1133.3,417.0 C1131.2,419.5 1134.0,425.1 1131.5,428.1 C1129.0,431.2 1120.7,434.3 1118.5,435.6 M1100.0,420.7 C1101.9,420.4 1108.6,417.7 1111.1,418.9 C1113.6,420.1 1114.2,426.6 1114.8,428.1 M1144.4,413.3 L1203.7,439.3 M1101.9,431.9 C1103.4,434.3 1108.6,442.3 1111.1,446.7 C1113.6,451.0 1114.5,452.2 1116.7,457.8 C1118.8,463.3 1122.8,476.3 1124.1,480.0 M1116.7,437.4 C1119.1,440.5 1128.4,448.8 1131.5,455.9 C1134.6,463.0 1134.6,476.0 1135.2,480.0 M1203.7,428.1 C1205.6,428.1 1210.5,424.8 1214.8,428.1 C1219.1,431.5 1224.1,443.9 1229.6,448.5 C1235.2,453.1 1243.2,455.6 1248.1,455.9 C1253.1,456.2 1254.9,449.1 1259.3,450.4 C1263.6,451.6 1271.6,461.2 1274.1,463.3 M1216.7,455.9 C1218.8,455.3 1224.4,451.0 1229.6,452.2 C1234.9,453.5 1244.1,462.4 1248.1,463.3 C1252.2,464.3 1252.8,458.7 1253.7,457.8 M300.0,286.7 C308.5,286.7 340.7,285.2 351.1,286.7 C361.5,288.1 358.5,294.4 362.2,295.6 C365.9,296.7 368.1,293.3 373.3,293.3 C378.5,293.3 388.5,294.4 393.3,295.6 C398.1,296.7 400.7,299.3 402.2,300.0 M444.4,186.7 C441.1,188.5 431.1,194.4 424.4,197.8 C417.8,201.1 408.5,203.0 404.4,206.7 C400.4,210.4 399.6,215.9 400.0,220.0 C400.4,224.1 401.1,227.4 406.7,231.1 C412.2,234.8 425.9,239.6 433.3,242.2 C440.7,244.8 446.7,245.2 451.1,246.7 C455.6,248.1 457.0,251.9 460.0,251.1 C463.0,250.4 465.2,246.7 468.9,242.2 C472.6,237.8 478.9,229.3 482.2,224.4 C485.6,219.6 486.7,218.5 488.9,213.3 C491.1,208.1 492.2,197.0 495.6,193.3 C498.9,189.6 504.4,191.1 508.9,191.1 C513.3,191.1 518.5,191.9 522.2,193.3 C525.9,194.8 529.3,196.3 531.1,200.0 C533.0,203.7 531.1,212.2 533.3,215.6 C535.6,218.9 540.7,220.7 544.4,220.0 C548.1,219.3 552.2,212.2 555.6,211.1 C558.9,210.0 562.2,210.4 564.4,213.3 C566.7,216.3 567.4,223.7 568.9,228.9 C570.4,234.1 570.4,239.3 573.3,244.4 C576.3,249.6 583.7,254.8 586.7,260.0 C589.6,265.2 591.1,271.5 591.1,275.6 C591.1,279.6 587.4,283.0 586.7,284.4 M644.4,180.0 C646.3,182.6 650.7,191.1 655.6,195.6 C660.4,200.0 667.4,206.3 673.3,206.7 C679.3,207.0 686.7,201.1 691.1,197.8 C695.6,194.4 698.5,188.5 700.0,186.7 M360.0,300.0 C361.1,298.1 367.8,294.8 373.3,293.3 C378.9,291.9 388.9,290.0 393.3,291.1 C397.8,292.2 401.5,297.8 400.0,300.0 C398.5,302.2 390.0,303.7 384.4,304.4 C378.9,305.2 370.7,305.2 366.7,304.4 C362.6,303.7 358.9,301.9 360.0,300.0 M366.7,340.0 C366.3,337.4 370.4,327.0 373.3,322.2 C376.3,317.4 383.0,310.7 384.4,311.1 C385.9,311.5 383.7,320.0 382.2,324.4 C380.7,328.9 378.1,335.2 375.6,337.8 C373.0,340.4 367.0,342.6 366.7,340.0 M393.3,340.0 C391.1,338.1 398.5,326.7 402.2,322.2 C405.9,317.8 411.9,313.3 415.6,313.3 C419.3,313.3 424.4,318.9 424.4,322.2 C424.4,325.6 420.7,330.4 415.6,333.3 C410.4,336.3 395.6,341.9 393.3,340.0 M428.9,322.2 C432.6,320.7 444.8,315.6 451.1,313.3 C457.4,311.1 464.1,309.6 466.7,308.9 M444.4,304.4 C447.0,303.0 454.4,297.8 460.0,295.6 C465.6,293.3 474.8,291.9 477.8,291.1 M466.7,308.9 C472.2,306.7 490.7,299.6 500.0,295.6 C509.3,291.5 514.8,287.4 522.2,284.4 C529.6,281.5 537.0,279.6 544.4,277.8 C551.9,275.9 561.1,274.8 566.7,273.3 C572.2,271.9 575.9,269.6 577.8,268.9 M504.4,324.4 C507.4,323.3 517.4,319.6 522.2,317.8 C527.0,315.9 531.5,314.1 533.3,313.3 M575.6,273.3 C577.8,275.2 587.8,281.5 588.9,284.4 C590.0,287.4 583.3,290.0 582.2,291.1 M477.8,317.8 C474.1,320.7 462.2,329.3 455.6,335.6 C448.9,341.9 443.0,348.9 437.8,355.6 C432.6,362.2 428.1,369.3 424.4,375.6 C420.7,381.9 419.6,388.5 415.6,393.3 C411.5,398.1 406.3,400.0 400.0,404.4 C393.7,408.9 381.5,417.4 377.8,420.0 M535.6,180.0 C537.8,181.1 544.4,184.8 548.9,186.7 C553.3,188.5 557.8,192.2 562.2,191.1 C566.7,190.0 573.3,181.9 575.6,180.0 M468.9,180.0 C469.6,181.1 469.6,185.9 473.3,186.7 C477.0,187.4 488.1,184.8 491.1,184.4 M144.1,330.0 C143.1,334.0 139.1,343.6 138.1,354.1 C137.1,364.5 135.4,383.8 138.1,392.6 C140.7,401.4 150.7,401.4 153.7,407.0 C156.7,412.7 154.9,419.1 156.1,426.3 C157.3,433.5 158.1,443.9 160.9,450.4 C163.7,456.8 170.2,460.0 173.0,464.8 C175.8,469.6 177.0,476.8 177.8,479.3 M165.7,419.1 C167.3,419.1 173.4,415.5 175.4,419.1 C177.4,422.7 175.8,434.7 177.8,440.7 C179.8,446.8 186.6,452.0 187.4,455.2 C188.2,458.4 183.4,459.2 182.6,460.0 M153.7,407.0 C156.1,407.4 160.9,407.4 168.1,409.4 C175.4,411.4 189.8,418.3 197.0,419.1 C204.3,419.9 207.1,413.9 211.5,414.3 C215.9,414.7 219.9,418.3 223.5,421.5 C227.1,424.7 229.5,432.3 233.1,433.5 C236.8,434.7 242.0,427.9 245.2,428.7 C248.4,429.5 250.0,433.9 252.4,438.3 C254.8,442.7 258.4,452.4 259.6,455.2 M259.6,455.2 C260.8,456.0 266.8,455.2 266.8,460.0 C266.8,464.8 260.0,475.2 259.6,484.1 C259.2,492.9 261.2,507.7 264.4,513.0 C267.6,518.2 273.7,515.4 278.9,515.4 C284.1,515.4 291.3,516.6 295.7,513.0 C300.1,509.3 300.5,497.3 305.4,493.7 C310.2,490.1 321.8,488.5 324.6,491.3 C327.4,494.1 324.2,504.5 322.2,510.5 C320.2,516.6 315.8,524.6 312.6,527.4 C309.4,530.2 305.8,528.2 303.0,527.4 C300.1,526.6 296.9,523.4 295.7,522.6 M177.8,460.0 C181.4,463.2 194.6,472.8 199.4,479.3 C204.3,485.7 204.7,492.9 206.7,498.5 C208.7,504.1 206.7,508.1 211.5,513.0 C216.3,517.8 227.5,523.8 235.6,527.4 C243.6,531.0 252.8,533.0 259.6,534.6 C266.4,536.2 271.7,535.0 276.5,537.0 C281.3,539.0 283.3,544.3 288.5,546.7 C293.7,549.1 302.6,549.5 307.8,551.5 C313.0,553.5 315.0,553.9 319.8,558.7 C324.6,563.5 331.4,575.1 336.7,580.4 C341.9,585.6 348.7,588.4 351.1,590.0 M266.8,460.0 C267.2,456.8 263.2,445.6 269.3,440.7 C275.3,435.9 294.1,433.5 303.0,431.1 C311.8,428.7 315.0,427.3 322.2,426.3 C329.4,425.3 339.9,424.3 346.3,425.1 C352.7,425.9 357.5,426.1 360.7,431.1 C363.9,436.1 363.5,450.0 365.5,455.2 C367.6,460.4 370.4,462.8 372.8,462.4 C375.2,462.0 379.6,458.8 380.0,452.8 C380.4,446.8 374.4,433.5 375.2,426.3 C376.0,419.1 378.0,414.7 384.8,409.4 C391.6,404.2 409.7,401.0 416.1,395.0 C422.5,389.0 420.9,378.5 423.3,373.3 C425.7,368.1 427.7,366.9 430.5,363.7 C433.4,360.5 434.2,358.1 440.2,354.1 C446.2,350.1 461.0,343.6 466.7,339.6 C472.3,335.6 472.7,331.6 473.9,330.0 M312.6,529.8 C317.8,531.4 338.7,534.6 343.9,539.4 C349.1,544.3 343.1,551.9 343.9,558.7 C344.7,565.5 344.7,575.9 348.7,580.4 C352.7,584.8 364.7,584.4 368.0,585.2 M288.5,541.8 C291.7,542.6 301.8,545.9 307.8,546.7 C313.8,547.5 321.8,546.7 324.6,546.7 M346.3,488.9 C344.3,486.9 355.9,482.1 360.7,481.7 C365.5,481.3 370.4,484.1 375.2,486.5 C380.0,488.9 384.0,492.9 389.6,496.1 C395.2,499.3 405.7,503.7 408.9,505.7 C412.1,507.7 411.7,508.5 408.9,508.1 C406.1,507.7 398.0,505.7 392.0,503.3 C386.0,500.9 380.4,496.1 372.8,493.7 C365.1,491.3 348.3,490.9 346.3,488.9 M408.9,517.8 C405.3,515.8 412.9,506.5 418.5,505.7 C424.1,504.9 439.0,511.0 442.6,513.0 C446.2,515.0 445.8,517.0 440.2,517.8 C434.6,518.6 412.5,519.8 408.9,517.8 M454.6,515.4 C455.8,514.6 463.8,514.6 464.2,515.4 C464.6,516.2 458.6,520.2 457.0,520.2 C455.4,520.2 453.4,516.2 454.6,515.4 M392.0,590.0 C393.2,586.8 394.4,575.5 399.2,570.7 C404.1,565.9 417.7,559.5 420.9,561.1 C424.1,562.7 418.9,577.2 418.5,580.4 M430.5,565.9 C435.0,567.1 448.6,571.9 457.0,573.1 C465.5,574.3 475.5,571.9 481.1,573.1 C486.7,574.3 489.1,579.2 490.7,580.4 M387.2,467.2 C388.4,467.6 393.6,468.4 394.4,469.6 C395.2,470.8 392.4,473.6 392.0,474.4 M368.0,339.6 L375.2,330.0 M394.4,342.0 L420.9,332.4 M1260.0,131.6 C1263.4,131.9 1276.6,134.7 1280.6,133.3 C1284.6,131.9 1280.1,125.3 1284.1,123.0 C1288.1,120.7 1299.0,121.8 1304.7,119.5 C1310.4,117.2 1310.4,111.5 1318.4,109.2 C1326.5,106.9 1345.9,107.2 1352.8,105.8 C1359.7,104.3 1356.3,101.2 1359.7,100.6 C1363.1,100.1 1364.8,101.2 1373.4,102.3 C1382.0,103.5 1404.4,105.5 1411.3,107.5 C1418.1,109.5 1415.8,111.8 1414.7,114.4 C1413.5,117.0 1403.8,121.8 1404.4,123.0 C1405.0,124.1 1410.1,121.3 1418.1,121.3 C1426.2,121.3 1443.3,122.1 1452.5,123.0 C1461.7,123.8 1468.5,126.4 1473.1,126.4 C1477.7,126.4 1475.4,122.7 1480.0,123.0 C1484.6,123.3 1492.6,125.3 1500.6,128.1 C1508.7,131.0 1522.4,139.0 1528.1,140.2 C1533.9,141.3 1529.9,136.1 1535.0,135.0 C1540.2,133.9 1553.9,134.4 1559.1,133.3 C1564.2,132.1 1558.5,128.1 1565.9,128.1 C1573.4,128.1 1587.1,131.3 1603.8,133.3 C1620.4,135.3 1653.0,138.2 1665.6,140.2 C1678.2,142.2 1669.6,143.9 1679.4,145.3 C1689.1,146.7 1715.5,148.8 1724.1,148.8 C1732.7,148.8 1722.4,145.3 1731.0,145.3 C1739.5,145.3 1762.5,146.5 1775.6,148.8 C1788.8,151.0 1798.6,155.9 1810.0,159.1 C1821.5,162.2 1837.5,164.5 1844.4,167.7 C1851.3,170.8 1855.9,176.5 1851.3,178.0 C1846.7,179.4 1823.8,176.0 1816.9,176.3 C1810.0,176.5 1807.7,177.4 1810.0,179.7 C1812.3,182.0 1827.2,188.3 1830.6,190.0 M1260.0,138.4 C1261.7,140.2 1268.0,145.3 1270.3,148.8 C1272.6,152.2 1275.5,155.6 1273.8,159.1 C1272.0,162.5 1262.3,167.7 1260.0,169.4 M1260.0,250.2 L1275.5,246.7 M1090.0,183.8 C1091.2,184.0 1097.1,186.0 1097.5,185.0 C1097.9,184.0 1092.5,179.2 1092.5,177.5 C1092.5,175.8 1094.6,174.8 1097.5,175.0 C1100.4,175.2 1107.7,179.2 1110.0,178.8 C1112.3,178.3 1109.8,174.2 1111.2,172.5 C1112.7,170.8 1116.2,169.6 1118.8,168.8 C1121.2,167.9 1125.4,169.0 1126.2,167.5 C1127.1,166.0 1124.6,162.3 1123.8,160.0 C1122.9,157.7 1119.8,155.0 1121.2,153.8 C1122.7,152.5 1130.6,151.5 1132.5,152.5 C1134.4,153.5 1131.7,158.1 1132.5,160.0 C1133.3,161.9 1135.6,163.3 1137.5,163.8 C1139.4,164.2 1142.5,163.3 1143.8,162.5 C1145.0,161.7 1142.3,160.4 1145.0,158.8 C1147.7,157.1 1155.4,153.3 1160.0,152.5 C1164.6,151.7 1168.3,154.0 1172.5,153.8 C1176.7,153.5 1181.5,151.5 1185.0,151.2 C1188.5,151.0 1191.2,152.3 1193.8,152.5 C1196.2,152.7 1198.8,153.5 1200.0,152.5 C1201.2,151.5 1199.8,147.7 1201.2,146.2 C1202.7,144.8 1204.4,143.1 1208.8,143.8 C1213.1,144.4 1221.9,148.1 1227.5,150.0 C1233.1,151.9 1240.4,154.6 1242.5,155.0 C1244.6,155.4 1240.4,152.9 1240.0,152.5 M1241.2,153.8 C1239.0,152.7 1229.2,149.6 1227.5,147.5 C1225.8,145.4 1231.5,142.9 1231.2,141.2 C1231.0,139.6 1226.0,138.8 1226.2,137.5 C1226.5,136.2 1231.5,135.6 1232.5,133.8 C1233.5,131.9 1230.4,127.5 1232.5,126.2 C1234.6,125.0 1242.5,124.8 1245.0,126.2 C1247.5,127.7 1246.2,132.9 1247.5,135.0 C1248.8,137.1 1250.8,136.7 1252.5,138.8 C1254.2,140.8 1255.6,144.6 1257.5,147.5 C1259.4,150.4 1263.3,153.8 1263.8,156.2 C1264.2,158.8 1261.2,160.6 1260.0,162.5 C1258.8,164.4 1255.4,166.7 1256.2,167.5 C1257.1,168.3 1262.7,167.9 1265.0,167.5 C1267.3,167.1 1269.2,165.4 1270.0,165.0 M1270.0,128.8 C1268.3,128.5 1262.1,126.5 1260.0,127.5 C1257.9,128.5 1256.9,133.1 1257.5,135.0 C1258.1,136.9 1262.5,136.7 1263.8,138.8 C1265.0,140.8 1264.0,146.0 1265.0,147.5 C1266.0,149.0 1269.2,147.5 1270.0,147.5 M418.5,560.0 C416.9,564.0 406.5,575.2 408.9,584.1 C411.3,592.9 427.3,603.3 433.0,613.0 C438.6,622.6 443.4,631.4 442.6,641.8 C441.8,652.3 426.5,662.7 428.1,675.6 C429.8,688.4 447.4,710.1 452.2,718.9 C457.0,727.7 458.6,721.3 457.0,728.5 C455.4,735.7 445.8,748.6 442.6,762.2 C439.4,775.9 437.8,794.3 437.8,810.4 C437.8,826.4 442.6,844.1 442.6,858.5 C442.6,873.0 437.0,882.6 437.8,897.0 C438.6,911.5 443.4,930.7 447.4,945.2 C451.4,959.6 457.0,971.7 461.8,983.7 C466.7,995.7 470.7,1007.8 476.3,1017.4 C481.9,1027.0 487.5,1034.2 495.6,1041.5 C503.6,1048.7 517.2,1057.1 524.4,1060.7 C531.7,1064.3 536.5,1062.7 538.9,1063.1 M452.2,723.7 C459.4,730.1 485.9,752.6 495.6,762.2 C505.2,771.8 506.8,775.1 510.0,781.5 C513.2,787.9 514.0,797.5 514.8,800.7 M452.2,810.4 C452.2,818.4 453.0,839.2 452.2,858.5 C451.4,877.8 445.8,905.9 447.4,925.9 C449.0,946.0 457.0,963.6 461.8,978.9 C466.7,994.1 469.1,1007.0 476.3,1017.4 C483.5,1027.8 498.0,1035.8 505.2,1041.5 C512.4,1047.1 517.2,1049.5 519.6,1051.1 M582.2,810.4 C581.4,816.8 581.4,834.4 577.4,848.9 C573.4,863.3 564.6,884.2 558.1,897.0 C551.7,909.9 545.3,917.9 538.9,925.9 C532.5,933.9 525.2,937.9 519.6,945.2 C514.0,952.4 506.8,958.8 505.2,969.2 C503.6,979.7 511.6,998.1 510.0,1007.8 C508.4,1017.4 494.7,1020.6 495.6,1027.0 C496.4,1033.4 508.4,1040.7 514.8,1046.3 C521.2,1051.9 530.9,1058.3 534.1,1060.7 M529.3,877.8 C533.3,876.2 547.7,864.9 553.3,868.1 C558.9,871.3 565.4,889.8 563.0,897.0 C560.5,904.2 545.3,911.5 538.9,911.5 C532.5,911.5 526.8,899.4 524.4,897.0 M553.3,1041.5 C551.7,1039.9 558.1,1037.1 563.0,1036.6 C567.8,1036.2 580.6,1037.5 582.2,1039.1 C583.8,1040.7 577.4,1045.9 572.6,1046.3 C567.8,1046.7 554.9,1043.1 553.3,1041.5 M440.0,569.4 C443.1,570.5 451.0,574.7 458.9,575.7 C466.7,576.8 481.4,573.1 487.2,575.7 C493.0,578.4 489.3,586.2 493.5,591.5 C497.7,596.7 505.6,604.1 512.4,607.2 C519.2,610.3 528.1,607.2 534.4,610.3 C540.7,613.5 545.9,620.3 550.1,626.1 C554.3,631.8 555.9,639.2 559.6,645.0 C563.2,650.7 565.9,656.5 572.2,660.7 C578.5,664.9 588.4,668.0 597.3,670.1 C606.2,672.2 620.9,672.8 625.7,673.3 M487.2,591.5 C488.8,594.6 494.5,602.0 496.6,610.3 C498.7,618.7 499.3,636.6 499.8,641.8 M512.4,613.5 L515.5,638.7 M531.3,613.5 L534.4,635.5 M440.0,645.0 C443.1,645.0 453.6,648.6 458.9,645.0 C464.1,641.3 466.7,627.1 471.5,622.9 C476.2,618.7 484.6,620.3 487.2,619.8 M455.7,723.6 C457.3,727.3 459.4,740.4 465.2,745.7 C470.9,750.9 484.6,750.4 490.3,755.1 C496.1,759.8 495.6,768.2 499.8,774.0 C504.0,779.7 512.9,783.4 515.5,789.7 C518.1,796.0 512.4,804.9 515.5,811.7 C518.7,818.5 529.7,824.3 534.4,830.6 C539.1,836.9 542.8,844.8 543.8,849.5 C544.9,854.2 544.4,857.9 540.7,858.9 C537.0,860.0 525.5,859.5 521.8,855.8 C518.1,852.1 523.4,841.6 518.7,836.9 C513.9,832.2 498.7,832.7 493.5,827.5 C488.2,822.2 485.6,810.2 487.2,805.4 C488.8,800.7 498.2,800.2 502.9,799.1 C507.7,798.1 513.4,799.1 515.5,799.1 M449.4,811.7 C451.5,813.3 457.3,820.1 462.0,821.2 C466.7,822.2 473.6,819.6 477.8,818.0 C482.0,816.5 485.6,812.8 487.2,811.7 M625.7,811.7 C625.1,813.3 628.8,817.0 622.5,821.2 C616.2,825.4 595.2,830.6 587.9,836.9 C580.5,843.2 581.1,852.1 578.5,858.9 C575.8,865.7 574.3,871.0 572.2,877.8 C570.1,884.6 566.9,896.2 565.9,899.8 M518.7,855.8 C520.2,860.0 523.9,874.7 528.1,881.0 C532.3,887.2 541.2,891.4 543.8,893.5 M932.5,195.0 C934.6,194.0 940.8,190.6 945.0,188.8 C949.2,186.9 953.8,185.6 957.5,183.8 C961.2,181.9 964.6,180.4 967.5,177.5 C970.4,174.6 972.1,169.8 975.0,166.2 C977.9,162.7 981.7,159.2 985.0,156.2 C988.3,153.3 992.1,151.2 995.0,148.8 C997.9,146.2 1000.6,141.9 1002.5,141.2 C1004.4,140.6 1003.3,145.2 1006.2,145.0 C1009.2,144.8 1017.1,141.2 1020.0,140.0 C1022.9,138.8 1020.8,137.9 1023.8,137.5 C1026.7,137.1 1032.3,137.3 1037.5,137.5 C1042.7,137.7 1051.5,138.1 1055.0,138.8 C1058.5,139.4 1058.3,140.0 1058.8,141.2 C1059.2,142.5 1059.0,145.2 1057.5,146.2 C1056.0,147.3 1051.2,147.3 1050.0,147.5 M1050.0,147.5 C1051.5,146.9 1053.8,143.5 1058.8,143.8 C1063.8,144.0 1073.8,147.1 1080.0,148.8 C1086.2,150.4 1091.5,151.9 1096.2,153.8 C1101.0,155.6 1106.9,157.7 1108.8,160.0 C1110.6,162.3 1110.2,165.8 1107.5,167.5 C1104.8,169.2 1097.1,170.0 1092.5,170.0 C1087.9,170.0 1084.0,168.5 1080.0,167.5 C1076.0,166.5 1068.8,163.1 1068.8,163.8 C1068.8,164.4 1077.1,168.3 1080.0,171.2 C1082.9,174.2 1083.5,179.2 1086.2,181.2 C1089.0,183.3 1095.2,184.6 1096.2,183.8 C1097.3,182.9 1090.2,177.3 1092.5,176.2 C1094.8,175.2 1107.1,177.3 1110.0,177.5 M1010.0,151.2 C1008.3,151.7 1003.5,152.5 1000.0,153.8 C996.5,155.0 991.9,156.0 988.8,158.8 C985.6,161.5 983.1,166.2 981.2,170.0 C979.4,173.8 979.4,178.3 977.5,181.2 C975.6,184.2 971.2,184.0 970.0,187.5 C968.8,191.0 969.8,198.8 970.0,202.5 C970.2,206.2 972.1,207.5 971.2,210.0 C970.4,212.5 966.0,216.2 965.0,217.5 M932.5,195.0 C932.3,196.2 930.6,198.1 931.2,202.5 C931.9,206.9 934.0,217.9 936.2,221.2 C938.5,224.6 941.2,223.5 945.0,222.5 C948.8,221.5 955.4,215.8 958.8,215.0 C962.1,214.2 964.0,217.1 965.0,217.5 M965.0,217.5 C966.5,220.4 971.9,231.0 973.8,235.0 C975.6,239.0 974.4,240.8 976.2,241.2 C978.1,241.7 982.3,238.5 985.0,237.5 C987.7,236.5 990.8,238.5 992.5,235.0 C994.2,231.5 994.0,219.6 995.0,216.2 C996.0,212.9 998.1,215.2 998.8,215.0 M1027.5,168.8 C1026.2,169.4 1021.9,170.6 1020.0,172.5 C1018.1,174.4 1018.5,177.7 1016.2,180.0 C1014.0,182.3 1009.4,183.8 1006.2,186.2 C1003.1,188.8 999.4,191.9 997.5,195.0 C995.6,198.1 995.0,201.5 995.0,205.0 C995.0,208.5 997.1,214.4 997.5,216.2 M1033.8,172.5 C1033.1,173.5 1032.7,176.7 1030.0,178.8 C1027.3,180.8 1019.8,182.3 1017.5,185.0 C1015.2,187.7 1015.8,191.7 1016.2,195.0 C1016.7,198.3 1017.7,202.5 1020.0,205.0 C1022.3,207.5 1026.2,209.6 1030.0,210.0 C1033.8,210.4 1038.3,208.5 1042.5,207.5 C1046.7,206.5 1051.5,203.3 1055.0,203.8 C1058.5,204.2 1062.3,209.0 1063.8,210.0 M1010.0,151.2 C1011.9,151.7 1018.5,151.9 1021.2,153.8 C1024.0,155.6 1025.2,160.0 1026.2,162.5 C1027.3,165.0 1026.2,167.1 1027.5,168.8 C1028.8,170.4 1032.7,171.9 1033.8,172.5 M1021.2,152.5 C1023.1,152.3 1029.8,152.5 1032.5,151.2 C1035.2,150.0 1035.0,146.0 1037.5,145.0 C1040.0,144.0 1045.4,144.6 1047.5,145.0 C1049.6,145.4 1049.6,147.1 1050.0,147.5 M1050.0,147.5 C1050.0,148.5 1049.2,151.2 1050.0,153.8 C1050.8,156.2 1053.8,159.0 1055.0,162.5 C1056.2,166.0 1056.2,171.2 1057.5,175.0 C1058.8,178.8 1060.6,182.1 1062.5,185.0 C1064.4,187.9 1069.0,189.6 1068.8,192.5 C1068.5,195.4 1063.5,200.4 1061.2,202.5 C1059.0,204.6 1056.0,204.6 1055.0,205.0 M998.8,215.0 C999.0,216.7 998.5,221.2 1000.0,225.0 C1001.5,228.8 1005.0,235.2 1007.5,237.5 C1010.0,239.8 1012.9,240.0 1015.0,238.8 C1017.1,237.5 1018.3,232.7 1020.0,230.0 C1021.7,227.3 1024.2,223.8 1025.0,222.5 M1025.0,222.5 C1025.8,221.2 1027.1,216.7 1030.0,215.0 C1032.9,213.3 1039.0,212.9 1042.5,212.5 C1046.0,212.1 1049.6,212.1 1051.2,212.5 C1052.9,212.9 1051.9,212.9 1052.5,215.0 C1053.1,217.1 1054.6,223.3 1055.0,225.0 M1025.0,226.2 C1026.5,226.7 1031.7,229.2 1033.8,228.8 C1035.8,228.3 1034.8,224.4 1037.5,223.8 C1040.2,223.1 1047.3,224.8 1050.0,225.0 C1052.7,225.2 1053.1,225.0 1053.8,225.0 M1020.0,235.0 C1020.8,234.6 1021.7,232.5 1025.0,232.5 C1028.3,232.5 1035.8,234.2 1040.0,235.0 C1044.2,235.8 1047.1,237.3 1050.0,237.5 C1052.9,237.7 1056.2,236.5 1057.5,236.2 M1053.8,215.0 C1054.0,217.1 1054.0,223.8 1055.0,227.5 C1056.0,231.2 1056.9,235.4 1060.0,237.5 C1063.1,239.6 1070.8,237.9 1073.8,240.0 C1076.7,242.1 1076.0,247.1 1077.5,250.0 C1079.0,252.9 1081.7,256.2 1082.5,257.5 M946.2,260.0 C946.7,256.2 947.3,242.9 948.8,237.5 C950.2,232.1 953.1,229.2 955.0,227.5 C956.9,225.8 959.6,226.2 960.0,227.5 C960.4,228.8 958.1,232.3 957.5,235.0 C956.9,237.7 956.0,241.7 956.2,243.8 C956.5,245.8 957.3,247.3 958.8,247.5 C960.2,247.7 962.5,245.0 965.0,245.0 C967.5,245.0 972.3,247.1 973.8,247.5 M980.0,253.8 C983.5,252.3 996.0,246.0 1001.2,245.0 C1006.5,244.0 1009.6,247.1 1011.2,247.5 M884.4,400.0 C884.4,402.2 888.1,408.9 884.4,413.3 C880.7,417.8 869.6,423.0 862.2,426.7 C854.8,430.4 844.8,432.2 840.0,435.6 C835.2,438.9 838.5,444.8 833.3,446.7 C828.1,448.5 812.2,443.3 808.9,446.7 C805.6,450.0 814.8,459.6 813.3,466.7 C811.9,473.7 805.2,484.4 800.0,488.9 C794.8,493.3 784.8,488.9 782.2,493.3 C779.6,497.8 781.5,508.9 784.4,515.6 C787.4,522.2 797.0,525.9 800.0,533.3 C803.0,540.7 800.7,552.6 802.2,560.0 C803.7,567.4 806.3,571.1 808.9,577.8 C811.5,584.4 812.6,593.0 817.8,600.0 C823.0,607.0 831.1,617.8 840.0,620.0 C848.9,622.2 861.5,615.6 871.1,613.3 C880.7,611.1 891.9,607.4 897.8,606.7 C903.7,605.9 905.2,608.5 906.7,608.9 M808.9,446.7 C813.7,446.7 833.3,449.6 837.8,446.7 C842.2,443.7 835.9,431.9 835.6,428.9 M837.8,446.7 C840.4,450.0 850.7,452.2 853.3,466.7 C855.9,481.1 860.0,522.2 853.3,533.3 C846.7,544.4 820.0,533.3 813.3,533.3 M837.8,448.9 C848.5,457.8 888.9,491.9 902.2,502.2 C915.6,512.6 914.4,505.9 917.8,511.1 C921.1,516.3 924.1,527.8 922.2,533.3 C920.4,538.9 909.3,542.6 906.7,544.4 M917.8,508.9 L960.0,488.9 M813.3,535.6 C813.7,538.9 812.2,551.5 815.6,555.6 C818.9,559.6 829.3,556.3 833.3,560.0 C837.4,563.7 838.9,567.8 840.0,577.8 C841.1,587.8 840.0,613.0 840.0,620.0 M855.6,571.1 C856.7,567.8 857.4,556.7 862.2,551.1 C867.0,545.6 878.9,539.3 884.4,537.8 C890.0,536.3 891.9,539.3 895.6,542.2 C899.3,545.2 904.8,553.3 906.7,555.6 M871.1,571.1 L871.1,613.3 M906.7,544.4 C909.3,545.6 913.3,549.3 922.2,551.1 C931.1,553.0 953.7,554.8 960.0,555.6 M906.7,608.9 C909.3,609.3 918.5,609.6 922.2,611.1 C925.9,612.6 922.6,616.3 928.9,617.8 C935.2,619.3 954.8,619.6 960.0,620.0 M942.2,400.0 C943.7,403.0 948.9,410.4 951.1,417.8 C953.3,425.2 954.1,437.0 955.6,444.4 C957.0,451.9 959.3,459.3 960.0,462.2 M871.5,226.5 C873.1,223.5 878.7,218.9 881.1,218.1 C883.5,217.2 884.3,219.9 885.9,221.7 C887.5,223.5 889.5,225.3 890.7,228.9 C891.9,232.5 891.1,238.9 893.1,243.3 C895.1,247.7 900.3,251.7 902.7,255.4 C905.2,259.0 907.2,262.2 907.6,265.0 C908.0,267.8 907.6,270.6 905.2,272.2 C902.7,273.8 898.3,273.4 893.1,274.6 C887.9,275.8 875.9,279.8 873.9,279.4 C871.9,279.0 880.7,275.0 881.1,272.2 C881.5,269.4 876.7,266.2 876.3,262.6 C875.9,259.0 879.5,255.0 878.7,250.5 C877.9,246.1 872.7,240.1 871.5,236.1 C870.3,232.1 869.9,229.5 871.5,226.5 M842.6,265.0 C843.0,261.4 844.6,254.2 847.4,250.5 C850.2,246.9 855.8,244.5 859.4,243.3 C863.0,242.1 867.0,242.1 869.0,243.3 C871.1,244.5 872.3,248.1 871.5,250.5 C870.7,252.9 866.2,255.0 864.2,257.8 C862.2,260.6 862.6,265.0 859.4,267.4 C856.2,269.8 847.8,272.6 845.0,272.2 C842.2,271.8 842.2,268.6 842.6,265.0 M871.5,291.5 C874.3,290.7 884.7,288.2 888.3,286.6 C891.9,285.0 889.5,284.2 893.1,281.8 C896.7,279.4 904.7,275.4 910.0,272.2 C915.2,269.0 919.6,265.4 924.4,262.6 C929.2,259.8 936.4,256.6 938.8,255.4 M871.5,291.5 C874.3,293.1 884.7,296.3 888.3,301.1 C891.9,305.9 892.7,315.5 893.1,320.3 C893.5,325.2 891.1,328.4 890.7,330.0 M890.7,330.0 C892.3,330.4 896.3,332.0 900.3,332.4 C904.3,332.8 910.8,333.2 914.8,332.4 C918.8,331.6 920.0,328.8 924.4,327.6 C928.8,326.4 938.4,325.6 941.3,325.2 M845.0,330.0 L890.7,330.0 M845.0,330.0 C844.6,332.4 843.8,338.8 842.6,344.4 C841.4,350.0 837.8,358.4 837.8,363.7 C837.8,368.9 839.0,372.9 842.6,375.7 C846.2,378.5 854.6,379.3 859.4,380.5 C864.2,381.7 867.4,383.3 871.5,382.9 C875.5,382.5 879.9,380.5 883.5,378.1 C887.1,375.7 890.3,373.3 893.1,368.5 C895.9,363.7 896.7,354.8 900.3,349.2 C903.9,343.6 912.4,337.2 914.8,334.8 M847.4,339.6 C849.0,340.0 855.8,339.2 857.0,342.0 C858.2,344.8 855.8,350.8 854.6,356.4 C853.4,362.1 850.6,372.5 849.8,375.7 M859.4,382.9 C858.6,384.5 857.8,387.7 854.6,392.5 C851.4,397.4 844.2,404.6 840.2,411.8 C836.2,419.0 835.8,430.2 830.5,435.9 C825.3,441.5 812.5,441.5 808.9,445.5 C805.3,449.5 808.9,457.5 808.9,459.9 M883.5,390.1 C883.9,393.7 887.5,407.0 885.9,411.8 C884.3,416.6 878.3,415.8 873.9,419.0 C869.5,422.2 865.4,428.2 859.4,431.0 C853.4,433.9 841.8,431.0 837.8,435.9 C833.8,440.7 835.8,455.9 835.4,459.9 M861.8,387.7 C865.4,388.1 877.1,390.9 883.5,390.1 C889.9,389.3 893.5,384.9 900.3,382.9 C907.2,380.9 917.2,379.3 924.4,378.1 C931.6,376.9 940.4,376.1 943.7,375.7 M919.6,272.2 C922.4,273.4 932.8,279.4 936.4,279.4 C940.0,279.4 940.4,273.4 941.3,272.2 M931.6,200.0 C932.4,202.8 933.6,212.8 936.4,216.8 C939.2,220.9 944.5,224.5 948.5,224.1 C952.5,223.7 958.5,216.0 960.5,214.4" fill="none" stroke="#9cc1cf" stroke-width="1.9" stroke-linejoin="round" stroke-linecap="round"/></svg>
<div id="lpanel" class="abs"></div>
<div id="title" class="abs">Perforated Packaging Market 2024 to 2032</div>

<div id="ctitle" class="abs">Global Market Size, 2024 and 2032</div>
<div id="cunit" class="abs">(USD Million)</div>

<div id="chart" class="abs"></div>
<div class="grid" style="top:478px"></div>
<div class="grid" style="top:533px"></div>
<div class="grid" style="top:588px"></div>
<div class="grid" style="top:643px"></div>
<div class="grid" style="top:698px"></div>
<div class="grid" style="top:753px"></div>
<div class="grid" style="top:809px"></div>
<div class="bar" style="left:284px;top:679px;width:168px;height:131px;background:#35a3a3;"></div>
<div class="bar" style="left:626px;top:521px;width:169px;height:289px;background:#0483b3;"></div>
<div class="val" style="left:274px;top:632.5px;">19878.00</div>
<div class="val" style="left:614.5px;top:476px;transform:scaleX(0.955)">25574.68</div>
<div class="cat" style="left:268px;top:827.5px;">2024</div>
<div class="cat" style="left:611px;top:827.5px;">2032</div>

<div id="rpanel" class="abs"></div><div id="rpin" class="abs"></div>
<div class="sl b" style="left:1420px;top:262.4px;letter-spacing:-0.16px">Market Segments</div>
<div class="sl b" style="left:1420px;top:309.5px;letter-spacing:-0.68px">Based on Product</div>
<div class="sl b" style="left:1420px;top:357.2px;letter-spacing:-0.9px">Type:</div>
<div class="sl" style="left:1445px;top:404.3px;letter-spacing:0.4px">Laser Perforation</div>
<div class="bul" style="left:1427px;top:420.8px"></div>
<div class="sl" style="left:1445px;top:451.2px;letter-spacing:1.41px">Needle Perforation</div>
<div class="bul" style="left:1427px;top:467.7px"></div>
<div class="sl b" style="left:1420px;top:501.7px;letter-spacing:-0.05px">Based on Material:</div>
<div class="sl" style="left:1445px;top:548.4px;letter-spacing:0.54px">Polypropylene (PP)</div>
<div class="bul" style="left:1427px;top:564.9px"></div>
<div class="sl" style="left:1445px;top:596.1px;letter-spacing:1.3px">Polyethylene</div>
<div class="bul" style="left:1427px;top:612.6px"></div>
<div class="sl" style="left:1422px;top:644.6px;letter-spacing:0.21px">Terephthalate (PET)</div>
<div class="sl b" style="left:1420px;top:693.4px;letter-spacing:-0.5px">Based on</div>
<div class="sl b" style="left:1420px;top:741.1px;letter-spacing:0.07px">Application:</div>
<div class="sl" style="left:1445px;top:788.6px;letter-spacing:3.7px">Meat</div>
<div class="bul" style="left:1427px;top:805.1px"></div>
<div class="sl" style="left:1445px;top:836.1px;letter-spacing:1.7px">Cheese</div>
<div class="bul" style="left:1427px;top:852.6px"></div>

<div id="dot" class="abs"></div>
<div id="circle" class="abs"></div>
<div class="cg" style="top:538px">CAGR</div>
<div class="cg" style="top:597px">3.2%</div>

<svg id="logo" class="abs" width="330" height="70" viewBox="1550 40 330 70">
<path d="M1563.2,73.7 A22.8,22.8 0 1,1 1586,96.5 A22.8,22.8 0 0,1 1571,90.5 L1563.3,95 Z M1569,73.7 A17,17 0 1,0 1586,56.7 A17,17 0 0,0 1569,73.7 Z" fill="#5b6b7a" fill-rule="evenodd"/>
<rect x="1592.8" y="56.5" width="5.6" height="35.5" fill="#5b6b7a"/>
<rect x="1573.3" y="73" width="5.3" height="16.5" fill="#1cb3d6"/>
<rect x="1583" y="67" width="5.9" height="23" fill="#1cb3d6"/>
<text x="1616" y="76.3" font-family="Liberation Sans" font-size="30" letter-spacing="-0.9" fill="#27a8b2">Credence</text>
<text x="1751" y="76.3" font-family="Liberation Sans" font-size="30" letter-spacing="-0.9" fill="#5d6770">Research</text>
<text x="1617" y="91.7" font-family="Liberation Sans" font-size="8.6" font-weight="bold" letter-spacing="4.73" fill="#51575d">Actionable Insights Delivered</text>
</svg>
</body>
</html>
